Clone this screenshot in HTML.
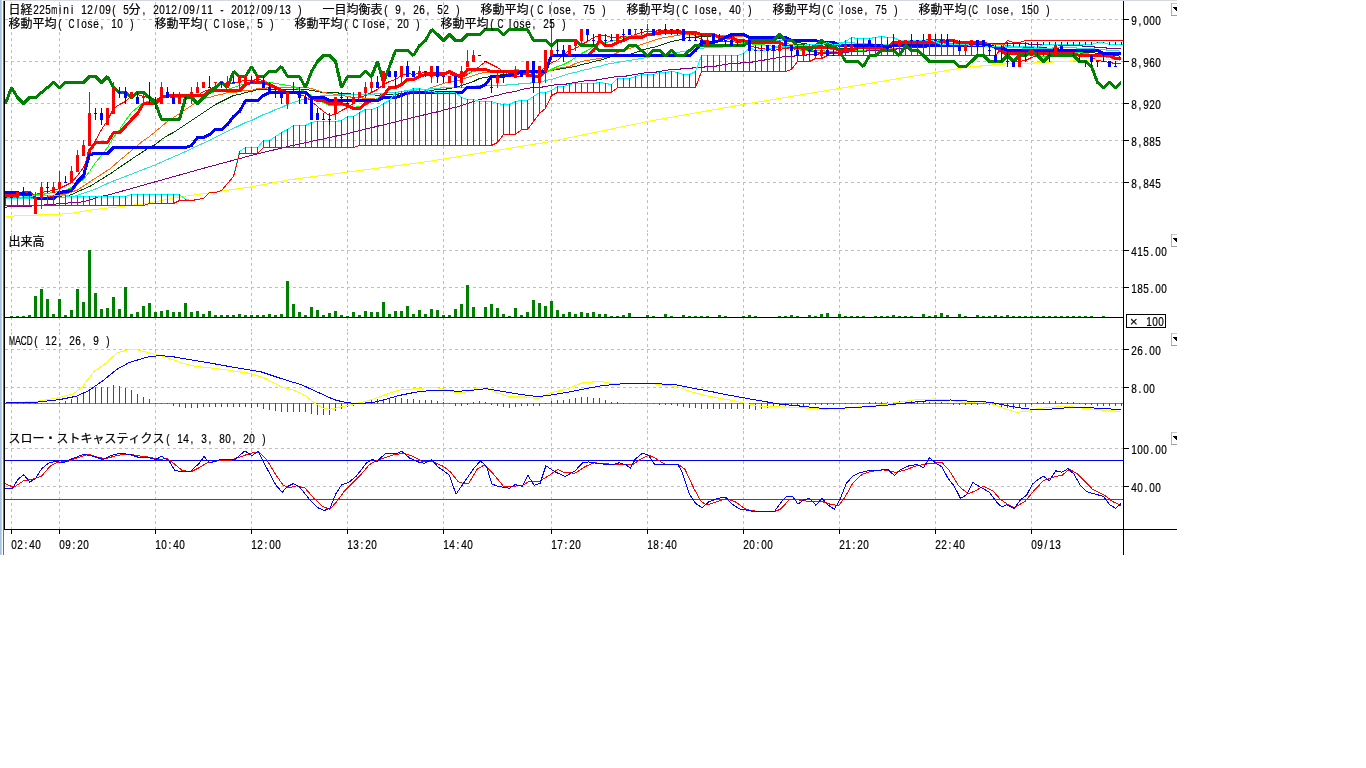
<!DOCTYPE html>
<html lang="ja"><head><meta charset="utf-8"><title>日経225mini 12/09 chart</title>
<style>html,body{margin:0;padding:0;background:#fff;overflow:hidden}svg{display:block}text{stroke:#000;stroke-width:.22px}</style></head>
<body><svg width="1366" height="768" viewBox="0 0 1366 768">
<g shape-rendering="crispEdges">
<rect x="0" y="0" width="1" height="555" fill="#a9c5e6"/>
<rect x="1" y="0" width="1" height="555" fill="#bdd3ec"/>
<rect x="3" y="0" width="1174" height="1" fill="#d5d8de"/>
<rect x="3" y="1" width="1" height="554" fill="#6e6e6e"/>
<line x1="5" y1="19.5" x2="1123" y2="19.5" stroke="#c0c0c0" stroke-dasharray="3 3"/>
<line x1="5" y1="61.5" x2="1123" y2="61.5" stroke="#c0c0c0" stroke-dasharray="3 3"/>
<line x1="5" y1="103.5" x2="1123" y2="103.5" stroke="#c0c0c0" stroke-dasharray="3 3"/>
<line x1="5" y1="140.5" x2="1123" y2="140.5" stroke="#c0c0c0" stroke-dasharray="3 3"/>
<line x1="5" y1="182.5" x2="1123" y2="182.5" stroke="#c0c0c0" stroke-dasharray="3 3"/>
<line x1="5" y1="250.5" x2="1123" y2="250.5" stroke="#c0c0c0" stroke-dasharray="3 3"/>
<line x1="5" y1="287.5" x2="1123" y2="287.5" stroke="#c0c0c0" stroke-dasharray="3 3"/>
<line x1="5" y1="349.5" x2="1123" y2="349.5" stroke="#c0c0c0" stroke-dasharray="3 3"/>
<line x1="5" y1="387.5" x2="1123" y2="387.5" stroke="#c0c0c0" stroke-dasharray="3 3"/>
<line x1="5" y1="448.5" x2="1123" y2="448.5" stroke="#c0c0c0" stroke-dasharray="3 3"/>
<line x1="5" y1="486.5" x2="1123" y2="486.5" stroke="#c0c0c0" stroke-dasharray="3 3"/>
<line x1="11.5" y1="2" x2="11.5" y2="232" stroke="#c0c0c0" stroke-dasharray="3 3"/>
<line x1="11.5" y1="233" x2="11.5" y2="331" stroke="#c0c0c0" stroke-dasharray="3 3"/>
<line x1="11.5" y1="332" x2="11.5" y2="430" stroke="#c0c0c0" stroke-dasharray="3 3"/>
<line x1="11.5" y1="431" x2="11.5" y2="529" stroke="#c0c0c0" stroke-dasharray="3 3"/>
<line x1="59.5" y1="2" x2="59.5" y2="232" stroke="#c0c0c0" stroke-dasharray="3 3"/>
<line x1="59.5" y1="233" x2="59.5" y2="331" stroke="#c0c0c0" stroke-dasharray="3 3"/>
<line x1="59.5" y1="332" x2="59.5" y2="430" stroke="#c0c0c0" stroke-dasharray="3 3"/>
<line x1="59.5" y1="431" x2="59.5" y2="529" stroke="#c0c0c0" stroke-dasharray="3 3"/>
<line x1="155.5" y1="2" x2="155.5" y2="232" stroke="#c0c0c0" stroke-dasharray="3 3"/>
<line x1="155.5" y1="233" x2="155.5" y2="331" stroke="#c0c0c0" stroke-dasharray="3 3"/>
<line x1="155.5" y1="332" x2="155.5" y2="430" stroke="#c0c0c0" stroke-dasharray="3 3"/>
<line x1="155.5" y1="431" x2="155.5" y2="529" stroke="#c0c0c0" stroke-dasharray="3 3"/>
<line x1="251.5" y1="2" x2="251.5" y2="232" stroke="#c0c0c0" stroke-dasharray="3 3"/>
<line x1="251.5" y1="233" x2="251.5" y2="331" stroke="#c0c0c0" stroke-dasharray="3 3"/>
<line x1="251.5" y1="332" x2="251.5" y2="430" stroke="#c0c0c0" stroke-dasharray="3 3"/>
<line x1="251.5" y1="431" x2="251.5" y2="529" stroke="#c0c0c0" stroke-dasharray="3 3"/>
<line x1="347.5" y1="2" x2="347.5" y2="232" stroke="#c0c0c0" stroke-dasharray="3 3"/>
<line x1="347.5" y1="233" x2="347.5" y2="331" stroke="#c0c0c0" stroke-dasharray="3 3"/>
<line x1="347.5" y1="332" x2="347.5" y2="430" stroke="#c0c0c0" stroke-dasharray="3 3"/>
<line x1="347.5" y1="431" x2="347.5" y2="529" stroke="#c0c0c0" stroke-dasharray="3 3"/>
<line x1="443.5" y1="2" x2="443.5" y2="232" stroke="#c0c0c0" stroke-dasharray="3 3"/>
<line x1="443.5" y1="233" x2="443.5" y2="331" stroke="#c0c0c0" stroke-dasharray="3 3"/>
<line x1="443.5" y1="332" x2="443.5" y2="430" stroke="#c0c0c0" stroke-dasharray="3 3"/>
<line x1="443.5" y1="431" x2="443.5" y2="529" stroke="#c0c0c0" stroke-dasharray="3 3"/>
<line x1="551.5" y1="2" x2="551.5" y2="232" stroke="#c0c0c0" stroke-dasharray="3 3"/>
<line x1="551.5" y1="233" x2="551.5" y2="331" stroke="#c0c0c0" stroke-dasharray="3 3"/>
<line x1="551.5" y1="332" x2="551.5" y2="430" stroke="#c0c0c0" stroke-dasharray="3 3"/>
<line x1="551.5" y1="431" x2="551.5" y2="529" stroke="#c0c0c0" stroke-dasharray="3 3"/>
<line x1="647.5" y1="2" x2="647.5" y2="232" stroke="#c0c0c0" stroke-dasharray="3 3"/>
<line x1="647.5" y1="233" x2="647.5" y2="331" stroke="#c0c0c0" stroke-dasharray="3 3"/>
<line x1="647.5" y1="332" x2="647.5" y2="430" stroke="#c0c0c0" stroke-dasharray="3 3"/>
<line x1="647.5" y1="431" x2="647.5" y2="529" stroke="#c0c0c0" stroke-dasharray="3 3"/>
<line x1="743.5" y1="2" x2="743.5" y2="232" stroke="#c0c0c0" stroke-dasharray="3 3"/>
<line x1="743.5" y1="233" x2="743.5" y2="331" stroke="#c0c0c0" stroke-dasharray="3 3"/>
<line x1="743.5" y1="332" x2="743.5" y2="430" stroke="#c0c0c0" stroke-dasharray="3 3"/>
<line x1="743.5" y1="431" x2="743.5" y2="529" stroke="#c0c0c0" stroke-dasharray="3 3"/>
<line x1="839.5" y1="2" x2="839.5" y2="232" stroke="#c0c0c0" stroke-dasharray="3 3"/>
<line x1="839.5" y1="233" x2="839.5" y2="331" stroke="#c0c0c0" stroke-dasharray="3 3"/>
<line x1="839.5" y1="332" x2="839.5" y2="430" stroke="#c0c0c0" stroke-dasharray="3 3"/>
<line x1="839.5" y1="431" x2="839.5" y2="529" stroke="#c0c0c0" stroke-dasharray="3 3"/>
<line x1="935.5" y1="2" x2="935.5" y2="232" stroke="#c0c0c0" stroke-dasharray="3 3"/>
<line x1="935.5" y1="233" x2="935.5" y2="331" stroke="#c0c0c0" stroke-dasharray="3 3"/>
<line x1="935.5" y1="332" x2="935.5" y2="430" stroke="#c0c0c0" stroke-dasharray="3 3"/>
<line x1="935.5" y1="431" x2="935.5" y2="529" stroke="#c0c0c0" stroke-dasharray="3 3"/>
<line x1="1031.5" y1="2" x2="1031.5" y2="232" stroke="#c0c0c0" stroke-dasharray="3 3"/>
<line x1="1031.5" y1="233" x2="1031.5" y2="331" stroke="#c0c0c0" stroke-dasharray="3 3"/>
<line x1="1031.5" y1="332" x2="1031.5" y2="430" stroke="#c0c0c0" stroke-dasharray="3 3"/>
<line x1="1031.5" y1="431" x2="1031.5" y2="529" stroke="#c0c0c0" stroke-dasharray="3 3"/>
</g>
<g shape-rendering="crispEdges">
<polyline points="5.5,197 45.5,198 70.5,195 90.5,186 110.5,173.6 133.9,157.6 149.5,147.5 155.5,144.5 161.5,139.5 167.5,135.5 173.5,132.5 179.5,128.5 185.5,124.5 191.5,120.5 197.5,116.5 203.5,112.5 209.5,108.5 215.5,104.5 221.5,101.5 227.5,98.5 233.5,95.5 239.5,94.5 245.5,92.5 251.5,91.5 257.5,89.5 263.5,89.5 269.5,89.5 275.5,89.5 281.5,89.5 287.5,89.5 293.5,89.5 299.5,89.5 305.5,89.5 311.5,90.5 317.5,91.5 323.5,92.5 329.5,92.5 335.5,92.5 341.5,93.5 347.5,93.5 353.5,94.5 359.5,94.5 365.5,94.5 371.5,94.5 377.5,95.5 383.5,94.5 389.5,94.5 395.5,94.5 401.5,93.5 407.5,93.5 413.5,93.5 419.5,92.5 425.5,91.5 431.5,90.5 437.5,89.5 443.5,89.5 449.5,88.5 455.5,87.5 461.5,85.5 467.5,83.5 473.5,81.5 479.5,78.5 485.5,77.5 491.5,76.5 497.5,75.5 503.5,74.5 509.5,74.5 515.5,73.5 521.5,73.5 527.5,72.5 533.5,72.5 539.5,72.5 545.5,71.5 551.5,70.5 557.5,69.5 563.5,68.5 569.5,67.5 575.5,66.5 581.5,64.5 587.5,63.5 593.5,61.5 599.5,60.5 605.5,58.5 611.5,56.5 617.5,55.5 623.5,55.5 629.5,54.5 635.5,52.5 641.5,50.5 647.5,48.5 653.5,47.5 659.5,45.5 665.5,43.5 671.5,41.5 677.5,40.5 683.5,38.5 689.5,37.5 695.5,37.5 701.5,36.5 707.5,36.5 713.5,35.5 719.5,35.5 725.5,35.5 731.5,36.5 737.5,36.5 743.5,36.5 749.5,37.5 755.5,37.5 761.5,38.5 767.5,39.5 773.5,39.5 779.5,40.5 785.5,40.5 791.5,41.5 797.5,42.5 803.5,43.5 809.5,44.5 815.5,45.5 821.5,45.5 827.5,47.5 833.5,47.5 839.5,48.5 845.5,48.5 851.5,48.5 857.5,48.5 863.5,48.5 869.5,48.5 875.5,49.5 881.5,49.5 887.5,49.5 893.5,49.5 899.5,48.5 905.5,48.5 911.5,47.5 917.5,47.5 923.5,47.5 929.5,46.5 935.5,46.5 941.5,45.5 947.5,45.5 953.5,45.5 959.5,45.5 965.5,44.5 971.5,44.5 977.5,44.5 983.5,43.5 989.5,43.5 995.5,44.5 1001.5,44.5 1007.5,45.5 1013.5,46.5 1019.5,46.5 1025.5,47.5 1031.5,47.5 1037.5,47.5 1043.5,47.5 1049.5,48.5 1055.5,48.5 1061.5,49.5 1067.5,49.5 1073.5,50.5 1079.5,51.5 1085.5,52.5 1091.5,52.5 1097.5,53.5 1103.5,54.5 1109.5,54.5 1115.5,55.5 1120.5,56.33" fill="none" stroke="#004800" stroke-width="1"/>
<polyline points="5.5,197 40.5,198 65.5,194 77.5,190 89.5,182 110.5,168.5 119.5,160.5 125.5,155.5 131.5,150.5 137.5,145.5 143.5,140.5 149.5,136.5 155.5,131.5 161.5,126.5 167.5,121.5 173.5,117.5 179.5,113.5 185.5,109.5 191.5,105.5 197.5,101.5 203.5,98.5 209.5,97.5 215.5,95.5 221.5,94.5 227.5,92.5 233.5,92.5 239.5,91.5 245.5,90.5 251.5,90.5 257.5,88.5 263.5,88.5 269.5,87.5 275.5,87.5 281.5,87.5 287.5,87.5 293.5,87.5 299.5,87.5 305.5,87.5 311.5,88.5 317.5,90.5 323.5,92.5 329.5,93.5 335.5,94.5 341.5,95.5 347.5,96.5 353.5,97.5 359.5,97.5 365.5,98.5 371.5,98.5 377.5,99.5 383.5,98.5 389.5,97.5 395.5,96.5 401.5,95.5 407.5,94.5 413.5,93.5 419.5,92.5 425.5,90.5 431.5,87.5 437.5,85.5 443.5,83.5 449.5,81.5 455.5,81.5 461.5,79.5 467.5,77.5 473.5,75.5 479.5,73.5 485.5,72.5 491.5,72.5 497.5,72.5 503.5,72.5 509.5,72.5 515.5,72.5 521.5,72.5 527.5,71.5 533.5,72.5 539.5,71.5 545.5,70.5 551.5,70.5 557.5,68.5 563.5,67.5 569.5,66.5 575.5,63.5 581.5,61.5 587.5,60.5 593.5,59.5 599.5,58.5 605.5,57.5 611.5,55.5 617.5,52.5 623.5,50.5 629.5,48.5 635.5,46.5 641.5,44.5 647.5,42.5 653.5,40.5 659.5,38.5 665.5,37.5 671.5,36.5 677.5,35.5 683.5,34.5 689.5,34.5 695.5,34.5 701.5,35.5 707.5,35.5 713.5,35.5 719.5,35.5 725.5,35.5 731.5,35.5 737.5,36.5 743.5,36.5 749.5,37.5 755.5,38.5 761.5,39.5 767.5,40.5 773.5,41.5 779.5,42.5 785.5,43.5 791.5,44.5 797.5,45.5 803.5,46.5 809.5,46.5 815.5,47.5 821.5,47.5 827.5,48.5 833.5,49.5 839.5,49.5 845.5,50.5 851.5,50.5 857.5,50.5 863.5,50.5 869.5,49.5 875.5,49.5 881.5,49.5 887.5,49.5 893.5,48.5 899.5,48.5 905.5,48.5 911.5,47.5 917.5,46.5 923.5,46.5 929.5,45.5 935.5,44.5 941.5,44.5 947.5,43.5 953.5,43.5 959.5,43.5 965.5,43.5 971.5,42.5 977.5,42.5 983.5,42.5 989.5,43.5 995.5,44.5 1001.5,44.5 1007.5,45.5 1013.5,46.5 1019.5,47.5 1025.5,48.5 1031.5,48.5 1037.5,49.5 1043.5,49.5 1049.5,50.5 1055.5,51.5 1061.5,51.5 1067.5,51.5 1073.5,52.5 1079.5,52.5 1085.5,53.5 1091.5,54.5 1097.5,55.5 1103.5,56.5 1109.5,57.5 1115.5,57.5 1120.5,57.5" fill="none" stroke="#ff6600" stroke-width="1"/>
<polyline points="5.5,195.5 11.5,195.5 17.5,195.5 23.5,195.5 29.5,194.5 35.5,194.5 41.5,192.5 47.5,191.5 53.5,190.5 59.5,188.5 65.5,185.5 71.5,182.5 77.5,175.5 83.5,167.5 89.5,153.5 95.5,140.5 101.5,129.5 107.5,120.5 113.5,108.5 119.5,104.5 125.5,101.5 131.5,95.5 137.5,94.5 143.5,96.5 149.5,97.5 155.5,99.5 161.5,97.5 167.5,96.5 173.5,97.5 179.5,97.5 185.5,96.5 191.5,97.5 197.5,95.5 203.5,91.5 209.5,89.5 215.5,86.5 221.5,84.5 227.5,83.5 233.5,83.5 239.5,81.5 245.5,80.5 251.5,80.5 257.5,79.5 263.5,80.5 269.5,83.5 275.5,86.5 281.5,89.5 287.5,92.5 293.5,93.5 299.5,94.5 305.5,96.5 311.5,101.5 317.5,106.5 323.5,111.5 329.5,115.5 335.5,114.5 341.5,110.5 347.5,107.5 353.5,103.5 359.5,97.5 365.5,95.5 371.5,92.5 377.5,89.5 383.5,84.5 389.5,81.5 395.5,79.5 401.5,75.5 407.5,73.5 413.5,74.5 419.5,73.5 425.5,72.5 431.5,72.5 437.5,72.5 443.5,72.5 449.5,73.5 455.5,76.5 461.5,77.5 467.5,74.5 473.5,70.5 479.5,66.5 485.5,61.5 491.5,64.5 497.5,67.5 503.5,71.5 509.5,75.5 515.5,77.5 521.5,75.5 527.5,72.5 533.5,73.5 539.5,71.5 545.5,67.5 551.5,62.5 557.5,60.5 563.5,54.5 569.5,50.5 575.5,48.5 581.5,44.5 587.5,41.5 593.5,37.5 599.5,35.5 605.5,35.5 611.5,37.5 617.5,37.5 623.5,36.5 629.5,36.5 635.5,34.5 641.5,32.5 647.5,31.5 653.5,31.5 659.5,30.5 665.5,30.5 671.5,30.5 677.5,30.5 683.5,31.5 689.5,33.5 695.5,35.5 701.5,39.5 707.5,41.5 713.5,41.5 719.5,41.5 725.5,41.5 731.5,41.5 737.5,42.5 743.5,43.5 749.5,45.5 755.5,47.5 761.5,48.5 767.5,49.5 773.5,50.5 779.5,49.5 785.5,48.5 791.5,48.5 797.5,49.5 803.5,49.5 809.5,50.5 815.5,52.5 821.5,52.5 827.5,52.5 833.5,53.5 839.5,53.5 845.5,51.5 851.5,50.5 857.5,48.5 863.5,46.5 869.5,45.5 875.5,45.5 881.5,45.5 887.5,45.5 893.5,45.5 899.5,44.5 905.5,43.5 911.5,42.5 917.5,41.5 923.5,40.5 929.5,39.5 935.5,39.5 941.5,39.5 947.5,40.5 953.5,41.5 959.5,44.5 965.5,45.5 971.5,45.5 977.5,45.5 983.5,45.5 989.5,45.5 995.5,48.5 1001.5,52.5 1007.5,55.5 1013.5,60.5 1019.5,61.5 1025.5,60.5 1031.5,57.5 1037.5,55.5 1043.5,52.5 1049.5,52.5 1055.5,50.5 1061.5,50.5 1067.5,50.5 1073.5,51.5 1079.5,52.5 1085.5,55.5 1091.5,57.5 1097.5,60.5 1103.5,61.5 1109.5,62.5 1115.5,63.5 1120.5,63.5" fill="none" stroke="#ff0000" stroke-width="1"/>
<polyline points="5.5,194.5 11.5,195.5 17.5,194.5 23.5,194.5 29.5,194.5 35.5,194.5 41.5,194.5 47.5,193.5 53.5,192.5 59.5,191.5 65.5,190.5 71.5,187.5 77.5,183.5 83.5,179.5 89.5,171.5 95.5,162.5 101.5,155.5 107.5,147.5 113.5,137.5 119.5,129.5 125.5,120.5 131.5,112.5 137.5,107.5 143.5,102.5 149.5,101.5 155.5,100.5 161.5,96.5 167.5,95.5 173.5,97.5 179.5,97.5 185.5,97.5 191.5,97.5 197.5,96.5 203.5,94.5 209.5,93.5 215.5,91.5 221.5,91.5 227.5,89.5 233.5,87.5 239.5,85.5 245.5,83.5 251.5,82.5 257.5,81.5 263.5,81.5 269.5,82.5 275.5,83.5 281.5,84.5 287.5,85.5 293.5,86.5 299.5,89.5 305.5,91.5 311.5,95.5 317.5,99.5 323.5,102.5 329.5,105.5 335.5,105.5 341.5,105.5 347.5,106.5 353.5,107.5 359.5,106.5 365.5,105.5 371.5,101.5 377.5,98.5 383.5,93.5 389.5,89.5 395.5,87.5 401.5,84.5 407.5,81.5 413.5,79.5 419.5,77.5 425.5,75.5 431.5,74.5 437.5,73.5 443.5,73.5 449.5,73.5 455.5,74.5 461.5,75.5 467.5,73.5 473.5,71.5 479.5,70.5 485.5,69.5 491.5,71.5 497.5,71.5 503.5,71.5 509.5,71.5 515.5,69.5 521.5,70.5 527.5,70.5 533.5,72.5 539.5,73.5 545.5,72.5 551.5,69.5 557.5,66.5 563.5,64.5 569.5,61.5 575.5,57.5 581.5,53.5 587.5,50.5 593.5,46.5 599.5,43.5 605.5,42.5 611.5,41.5 617.5,39.5 623.5,37.5 629.5,36.5 635.5,35.5 641.5,35.5 647.5,34.5 653.5,34.5 659.5,33.5 665.5,32.5 671.5,31.5 677.5,31.5 683.5,31.5 689.5,32.5 695.5,33.5 701.5,34.5 707.5,35.5 713.5,36.5 719.5,37.5 725.5,38.5 731.5,40.5 737.5,41.5 743.5,42.5 749.5,43.5 755.5,44.5 761.5,44.5 767.5,45.5 773.5,46.5 779.5,47.5 785.5,47.5 791.5,48.5 797.5,49.5 803.5,50.5 809.5,50.5 815.5,50.5 821.5,50.5 827.5,51.5 833.5,51.5 839.5,52.5 845.5,52.5 851.5,51.5 857.5,50.5 863.5,50.5 869.5,49.5 875.5,48.5 881.5,47.5 887.5,46.5 893.5,45.5 899.5,44.5 905.5,44.5 911.5,43.5 917.5,43.5 923.5,42.5 929.5,41.5 935.5,41.5 941.5,40.5 947.5,40.5 953.5,40.5 959.5,41.5 965.5,42.5 971.5,42.5 977.5,42.5 983.5,43.5 989.5,44.5 995.5,46.5 1001.5,49.5 1007.5,50.5 1013.5,52.5 1019.5,53.5 1025.5,54.5 1031.5,55.5 1037.5,55.5 1043.5,56.5 1049.5,56.5 1055.5,55.5 1061.5,54.5 1067.5,53.5 1073.5,52.5 1079.5,52.5 1085.5,53.5 1091.5,54.5 1097.5,55.5 1103.5,56.5 1109.5,57.5 1115.5,59.5 1120.5,60.33" fill="none" stroke="#00ff00" stroke-width="1"/>
<polyline points="5.5,216.5 13.5,216.5 14.5,215.5 37.5,215.5 38.5,214.5 61.5,214.5 62.5,213.5 70.5,213.5 89.1,210.2 110.5,207.7 144.5,203.8 180.5,196.8 210,192.7 252,186.8 288.8,179.9 348.1,172 420.5,162.6 440.5,159.5 551.5,141.4 649.3,121.2 743.5,104.4 841.2,88.2 899.5,78.5 905.5,77.5 911.5,76.5 917.5,75.5 923.5,74.5 929.5,73.5 935.5,72.5 941.5,71.5 947.5,70.5 953.5,69.5 959.5,68.5 965.5,67.5 971.5,66.5 977.5,66.5 983.5,65.5 989.5,65.5 995.5,64.5 1001.5,64.5 1007.5,63.5 1013.5,63.5 1019.5,63.5 1025.5,63.5 1031.5,63.5 1037.5,62.5 1043.5,62.5 1049.5,62.5 1055.5,61.5 1061.5,61.5 1067.5,61.5 1073.5,60.5 1079.5,60.5 1085.5,60.5 1091.5,60.5 1097.5,59.5 1103.5,59.5 1109.5,59.5 1115.5,59.5 1120.5,59.5" fill="none" stroke="#ffff00" stroke-width="1"/>
<polyline points="5.5,207.5 8.5,206.5 31.5,206.5 32.5,205.5 43.5,205.5 44.5,204.5 55.5,204.5 56.5,203.5 67.5,203.5 68.5,202.5 78.5,202.5 89.1,200.5 97.9,197 106.8,195.2 110.5,194.4 155.9,181.6 204.2,168.1 252,155.2 288.8,146.3 348.1,133.5 420.5,115.7 440.5,111.1 449.5,108.5 455.5,107.5 461.5,105.5 467.5,103.5 473.5,101.5 479.5,99.5 485.5,98.5 491.5,96.5 497.5,95.5 503.5,93.5 509.5,92.5 515.5,91.5 521.5,89.5 527.5,88.5 533.5,87.5 539.5,87.5 545.5,86.5 551.5,85.5 557.5,84.5 563.5,84.5 569.5,83.5 575.5,82.5 581.5,81.5 587.5,80.5 593.5,80.5 599.5,79.5 605.5,78.5 611.5,77.5 617.5,76.5 623.5,76.5 629.5,75.5 635.5,74.5 641.5,73.5 647.5,72.5 653.5,72.5 659.5,71.5 665.5,70.5 671.5,69.5 677.5,69.5 683.5,68.5 689.5,68.5 695.5,67.5 701.5,67.5 707.5,66.5 713.5,66.5 719.5,65.5 725.5,64.5 731.5,63.5 737.5,63.5 743.5,62.5 749.5,62.5 755.5,61.5 761.5,60.5 767.5,59.5 773.5,58.5 779.5,57.5 785.5,56.5 791.5,56.5 797.5,55.5 803.5,55.5 809.5,54.5 815.5,54.5 821.5,53.5 827.5,53.5 833.5,52.5 839.5,52.5 845.5,52.5 851.5,51.5 857.5,51.5 863.5,51.5 869.5,50.5 875.5,50.5 881.5,50.5 887.5,49.5 893.5,49.5 899.5,48.5 905.5,48.5 911.5,47.5 917.5,47.5 923.5,47.5 929.5,46.5 935.5,46.5 941.5,46.5 947.5,45.5 953.5,45.5 959.5,44.5 965.5,44.5 971.5,43.5 977.5,43.5 983.5,43.5 989.5,43.5 995.5,43.5 1001.5,43.5 1007.5,43.5 1013.5,43.5 1019.5,43.5 1025.5,43.5 1031.5,44.5 1037.5,44.5 1043.5,44.5 1049.5,44.5 1055.5,44.5 1061.5,45.5 1067.5,45.5 1073.5,45.5 1079.5,45.5 1085.5,46.5 1091.5,46.5 1097.5,47.5 1103.5,47.5 1109.5,48.5 1115.5,48.5 1120.5,48.5" fill="none" stroke="#800080" stroke-width="1"/>
<polyline points="5.5,198 50.5,198.5 75.5,196 95.5,189 110.5,182.2 155.9,164.6 186.5,151.1 210,140 239.5,125.5 245.5,122.5 251.5,120.5 257.5,117.5 263.5,114.5 269.5,112.5 275.5,109.5 281.5,107.5 287.5,104.5 293.5,102.5 299.5,100.5 305.5,98.5 311.5,97.5 317.5,96.5 323.5,95.5 329.5,95.5 335.5,95.5 341.5,94.5 347.5,94.5 353.5,94.5 359.5,94.5 365.5,94.5 371.5,94.5 377.5,93.5 383.5,93.5 389.5,92.5 395.5,92.5 401.5,91.5 407.5,90.5 413.5,90.5 419.5,89.5 425.5,89.5 431.5,88.5 437.5,88.5 443.5,87.5 449.5,87.5 455.5,87.5 461.5,87.5 467.5,87.5 473.5,86.5 479.5,85.5 485.5,85.5 491.5,85.5 497.5,85.5 503.5,85.5 509.5,84.5 515.5,84.5 521.5,83.5 527.5,83.5 533.5,82.5 539.5,82.5 545.5,80.5 551.5,79.5 557.5,77.5 563.5,75.5 569.5,73.5 575.5,72.5 581.5,70.5 587.5,69.5 593.5,67.5 599.5,66.5 605.5,64.5 611.5,63.5 617.5,62.5 623.5,61.5 629.5,60.5 635.5,59.5 641.5,58.5 647.5,57.5 653.5,56.5 659.5,55.5 665.5,54.5 671.5,53.5 677.5,52.5 683.5,51.5 689.5,50.5 695.5,49.5 701.5,48.5 707.5,47.5 713.5,47.5 719.5,47.5 725.5,46.5 731.5,45.5 737.5,44.5 743.5,43.5 749.5,43.5 755.5,42.5 761.5,42.5 767.5,41.5 773.5,40.5 779.5,40.5 785.5,40.5 791.5,40.5 797.5,40.5 803.5,40.5 809.5,40.5 815.5,40.5 821.5,41.5 827.5,41.5 833.5,42.5 839.5,42.5 845.5,42.5 851.5,42.5 857.5,43.5 863.5,43.5 869.5,43.5 875.5,44.5 881.5,44.5 887.5,44.5 893.5,45.5 899.5,45.5 905.5,45.5 911.5,45.5 917.5,46.5 923.5,46.5 929.5,46.5 935.5,46.5 941.5,45.5 947.5,46.5 953.5,46.5 959.5,46.5 965.5,46.5 971.5,46.5 977.5,46.5 983.5,46.5 989.5,46.5 995.5,46.5 1001.5,47.5 1007.5,47.5 1013.5,47.5 1019.5,47.5 1025.5,48.5 1031.5,48.5 1037.5,48.5 1043.5,48.5 1049.5,48.5 1055.5,47.5 1061.5,47.5 1067.5,47.5 1073.5,47.5 1079.5,48.5 1085.5,48.5 1091.5,48.5 1097.5,49.5 1103.5,49.5 1109.5,50.5 1115.5,50.5 1120.5,51.33" fill="none" stroke="#30e0d0" stroke-width="1"/>
</g>
<g shape-rendering="crispEdges" stroke-linejoin="bevel" stroke-linecap="butt">
<path d="M658 31h39v1h-39zM655 32h45v1h-45zM646 33h69v1h-69zM644 34h14v1h-14zM697 34h20v1h-20zM642 35h13v1h-13zM700 35h19v1h-19zM628 36h19v1h-19zM714 36h19v1h-19zM626 37h19v1h-19zM716 37h19v1h-19zM624 38h19v1h-19zM718 38h19v1h-19zM600 39h1v1h-1zM622 39h7v1h-7zM732 39h13v1h-13zM946 39h9v1h-9zM598 40h4v1h-4zM619 40h8v1h-8zM734 40h14v1h-14zM943 40h15v1h-15zM597 41h6v1h-6zM616 41h9v1h-9zM736 41h45v1h-45zM892 41h93v1h-93zM597 42h7v1h-7zM614 42h8v1h-8zM745 42h38v1h-38zM891 42h55v1h-55zM955 42h32v1h-32zM596 43h3v1h-3zM601 43h4v1h-4zM612 43h7v1h-7zM748 43h37v1h-37zM890 43h53v1h-53zM958 43h31v1h-31zM595 44h4v1h-4zM602 44h15v1h-15zM780 44h7v1h-7zM889 44h4v1h-4zM984 44h7v1h-7zM595 45h3v1h-3zM603 45h12v1h-12zM782 45h8v1h-8zM888 45h4v1h-4zM986 45h8v1h-8zM594 46h4v1h-4zM604 46h9v1h-9zM784 46h51v1h-51zM856 46h35v1h-35zM988 46h9v1h-9zM594 47h3v1h-3zM787 47h50v1h-50zM854 47h36v1h-36zM991 47h8v1h-8zM593 48h3v1h-3zM790 48h49v1h-49zM852 48h37v1h-37zM994 48h7v1h-7zM592 49h4v1h-4zM834 49h23v1h-23zM996 49h7v1h-7zM591 50h4v1h-4zM836 50h19v1h-19zM998 50h7v1h-7zM590 51h5v1h-5zM838 51h15v1h-15zM1000 51h7v1h-7zM589 52h4v1h-4zM1002 52h73v1h-73zM588 53h4v1h-4zM1004 53h74v1h-74zM551 54h40v1h-40zM1006 54h105v1h-105zM550 55h40v1h-40zM1075 55h38v1h-38zM550 56h39v1h-39zM1078 56h37v1h-37zM549 57h3v2h-3zM1110 57h11v1h-11zM1112 58h9v1h-9zM548 59h4v1h-4zM1114 59h7v1h-7zM548 60h3v2h-3zM547 62h3v3h-3zM546 65h3v2h-3zM545 67h4v1h-4zM466 68h21v1h-21zM545 68h3v2h-3zM466 69h24v1h-24zM448 70h3v1h-3zM465 70h58v1h-58zM544 70h3v1h-3zM446 71h7v1h-7zM464 71h4v1h-4zM487 71h38v1h-38zM543 71h4v1h-4zM444 72h11v1h-11zM463 72h4v1h-4zM490 72h37v1h-37zM542 72h5v1h-5zM424 73h25v1h-25zM450 73h7v1h-7zM462 73h4v1h-4zM522 73h7v1h-7zM541 73h4v1h-4zM421 74h26v1h-26zM452 74h8v1h-8zM461 74h4v1h-4zM524 74h8v1h-8zM540 74h4v1h-4zM418 75h27v1h-27zM454 75h10v1h-10zM526 75h17v1h-17zM416 76h8v1h-8zM457 76h6v1h-6zM529 76h13v1h-13zM414 77h7v1h-7zM460 77h3v1h-3zM532 77h9v1h-9zM406 78h13v1h-13zM405 79h12v1h-12zM404 80h11v1h-11zM250 81h15v1h-15zM403 81h4v1h-4zM247 82h21v1h-21zM402 82h4v1h-4zM244 83h27v1h-27zM400 83h5v1h-5zM243 84h7v1h-7zM265 84h8v1h-8zM398 84h6v1h-6zM242 85h5v1h-5zM268 85h7v1h-7zM396 85h7v1h-7zM241 86h5v1h-5zM270 86h7v1h-7zM388 86h13v1h-13zM240 87h5v1h-5zM272 87h7v1h-7zM388 87h11v1h-11zM239 88h5v1h-5zM274 88h7v1h-7zM387 88h10v1h-10zM208 89h35v1h-35zM276 89h7v1h-7zM386 89h4v1h-4zM207 90h35v1h-35zM278 90h8v1h-8zM385 90h4v1h-4zM206 91h35v1h-35zM280 91h27v1h-27zM385 91h3v1h-3zM205 92h4v1h-4zM283 92h25v1h-25zM384 92h4v1h-4zM204 93h4v1h-4zM286 93h23v1h-23zM383 93h4v1h-4zM166 94h41v1h-41zM306 94h4v1h-4zM382 94h4v1h-4zM163 95h43v1h-43zM307 95h4v1h-4zM381 95h4v1h-4zM160 96h45v1h-45zM308 96h5v1h-5zM380 96h5v1h-5zM159 97h7v1h-7zM309 97h6v1h-6zM379 97h4v1h-4zM158 98h5v1h-5zM310 98h7v1h-7zM378 98h4v1h-4zM157 99h5v1h-5zM312 99h13v1h-13zM370 99h11v1h-11zM156 100h5v1h-5zM314 100h13v1h-13zM368 100h12v1h-12zM155 101h5v1h-5zM316 101h13v1h-13zM366 101h13v1h-13zM143 102h16v1h-16zM324 102h19v1h-19zM364 102h7v1h-7zM142 103h16v1h-16zM326 103h20v1h-20zM363 103h6v1h-6zM141 104h16v1h-16zM328 104h21v1h-21zM362 104h5v1h-5zM141 105h3v1h-3zM343 105h8v1h-8zM361 105h4v1h-4zM140 106h3v1h-3zM346 106h7v1h-7zM360 106h4v1h-4zM139 107h4v1h-4zM348 107h15v1h-15zM139 108h3v1h-3zM350 108h12v1h-12zM138 109h4v1h-4zM352 109h9v1h-9zM138 110h3v1h-3zM137 111h3v1h-3zM136 112h4v1h-4zM135 113h4v1h-4zM134 114h5v1h-5zM133 115h5v1h-5zM132 116h5v1h-5zM131 117h5v1h-5zM130 118h5v1h-5zM130 119h4v1h-4zM129 120h4v1h-4zM128 121h4v1h-4zM127 122h4v1h-4zM126 123h4v1h-4zM125 124h4v1h-4zM124 125h4v1h-4zM123 126h4v1h-4zM122 127h5v1h-5zM121 128h5v1h-5zM120 129h5v1h-5zM119 130h5v1h-5zM113 131h10v1h-10zM112 132h10v1h-10zM111 133h10v1h-10zM111 134h3v1h-3zM110 135h3v1h-3zM109 136h4v1h-4zM109 137h3v1h-3zM108 138h4v1h-4zM108 139h3v1h-3zM107 140h3v1h-3zM94 141h16v1h-16zM94 142h15v1h-15zM93 143h15v1h-15zM92 144h4v1h-4zM91 145h4v1h-4zM91 146h3v1h-3zM90 147h4v1h-4zM89 148h4v1h-4zM88 149h4v1h-4zM88 150h3v2h-3zM87 152h4v1h-4zM87 153h3v4h-3zM86 157h3v4h-3zM85 161h4v1h-4zM85 162h3v3h-3zM84 165h4v1h-4zM84 166h3v4h-3zM83 170h3v4h-3zM82 174h4v1h-4zM82 175h3v1h-3zM81 176h4v1h-4zM80 177h5v1h-5zM79 178h5v1h-5zM78 179h5v1h-5zM77 180h5v1h-5zM76 181h5v1h-5zM76 182h4v1h-4zM75 183h4v1h-4zM74 184h4v1h-4zM73 185h4v1h-4zM73 186h3v1h-3zM72 187h4v1h-4zM71 188h4v1h-4zM70 189h4v1h-4zM67 190h6v1h-6zM22 191h9v1h-9zM58 191h15v1h-15zM20 192h12v1h-12zM57 192h13v1h-13zM18 193h15v1h-15zM56 193h11v1h-11zM5 194h18v1h-18zM29 194h5v1h-5zM55 194h4v1h-4zM5 195h16v1h-16zM30 195h5v1h-5zM54 195h4v1h-4zM5 196h14v1h-14zM31 196h5v1h-5zM50 196h7v1h-7zM32 197h24v1h-24zM33 198h22v1h-22zM34 199h17v1h-17z" fill="#ff0000"/>
<path d="M730 33h15v1h-15zM728 34h19v1h-19zM726 35h23v1h-23zM724 36h7v1h-7zM744 36h43v1h-43zM722 37h7v1h-7zM746 37h43v1h-43zM720 38h7v1h-7zM748 38h43v1h-43zM718 39h7v1h-7zM786 39h31v1h-31zM715 40h8v1h-8zM788 40h32v1h-32zM700 41h21v1h-21zM790 41h45v1h-45zM700 42h18v1h-18zM817 42h20v1h-20zM699 43h16v1h-16zM820 43h19v1h-19zM698 44h4v1h-4zM834 44h49v1h-49zM892 44h99v1h-99zM697 45h4v1h-4zM836 45h50v1h-50zM889 45h105v1h-105zM697 46h3v1h-3zM838 46h165v1h-165zM696 47h4v1h-4zM883 47h9v1h-9zM991 47h14v1h-14zM695 48h4v1h-4zM886 48h3v1h-3zM994 48h13v1h-13zM694 49h4v1h-4zM1002 49h97v1h-97zM693 50h4v1h-4zM1004 50h97v1h-97zM692 51h5v1h-5zM1006 51h97v1h-97zM691 52h4v1h-4zM1098 52h23v1h-23zM690 53h4v1h-4zM1100 53h21v1h-21zM551 54h142v1h-142zM1102 54h19v1h-19zM550 55h142v1h-142zM550 56h141v1h-141zM549 57h3v2h-3zM548 59h4v1h-4zM548 60h3v2h-3zM547 62h3v3h-3zM546 65h3v2h-3zM545 67h4v1h-4zM545 68h3v2h-3zM520 70h27v1h-27zM518 71h29v1h-29zM516 72h30v1h-30zM508 73h13v1h-13zM505 74h14v1h-14zM490 75h27v1h-27zM490 76h18v1h-18zM489 77h16v1h-16zM488 78h4v1h-4zM487 79h4v1h-4zM487 80h3v1h-3zM486 81h4v1h-4zM485 82h4v1h-4zM484 83h4v1h-4zM482 84h5v1h-5zM480 85h7v1h-7zM466 86h19v1h-19zM465 87h18v1h-18zM464 88h17v1h-17zM463 89h4v1h-4zM462 90h4v1h-4zM268 91h39v1h-39zM406 91h59v1h-59zM266 92h42v1h-42zM404 92h60v1h-60zM264 93h45v1h-45zM402 93h61v1h-61zM262 94h7v1h-7zM306 94h4v1h-4zM400 94h7v1h-7zM261 95h6v1h-6zM307 95h4v1h-4zM397 95h8v1h-8zM260 96h5v1h-5zM308 96h17v1h-17zM382 96h21v1h-21zM259 97h4v1h-4zM309 97h18v1h-18zM380 97h20v1h-20zM258 98h4v1h-4zM310 98h19v1h-19zM378 98h19v1h-19zM245 99h16v1h-16zM324 99h59v1h-59zM244 100h16v1h-16zM326 100h55v1h-55zM243 101h16v1h-16zM328 101h51v1h-51zM243 102h3v1h-3zM242 103h4v1h-4zM242 104h3v1h-3zM241 105h3v2h-3zM240 107h3v1h-3zM239 108h4v1h-4zM239 109h3v1h-3zM238 110h4v1h-4zM237 111h4v1h-4zM236 112h5v1h-5zM235 113h4v1h-4zM234 114h4v1h-4zM232 115h5v1h-5zM232 116h4v1h-4zM231 117h4v1h-4zM230 118h4v1h-4zM229 119h4v1h-4zM229 120h3v1h-3zM228 121h4v1h-4zM227 122h4v1h-4zM226 123h4v1h-4zM225 124h4v1h-4zM224 125h5v1h-5zM223 126h4v1h-4zM222 127h4v1h-4zM214 128h11v1h-11zM213 129h11v1h-11zM212 130h11v1h-11zM211 131h4v1h-4zM210 132h4v1h-4zM208 133h5v1h-5zM206 134h6v1h-6zM204 135h7v1h-7zM196 136h13v1h-13zM196 137h11v1h-11zM195 138h10v1h-10zM194 139h4v1h-4zM193 140h4v1h-4zM193 141h3v1h-3zM192 142h4v1h-4zM191 143h4v1h-4zM190 144h4v1h-4zM187 145h6v1h-6zM112 146h81v1h-81zM111 147h79v1h-79zM110 148h77v1h-77zM109 149h5v1h-5zM108 150h5v1h-5zM107 151h5v1h-5zM92 152h19v1h-19zM89 153h21v1h-21zM88 154h21v1h-21zM88 155h5v1h-5zM87 156h3v4h-3zM86 160h3v3h-3zM85 163h3v4h-3zM84 167h3v3h-3zM83 170h3v4h-3zM82 174h3v1h-3zM81 175h4v1h-4zM80 176h5v1h-5zM79 177h5v1h-5zM78 178h5v1h-5zM77 179h5v1h-5zM76 180h5v1h-5zM76 181h4v1h-4zM75 182h4v1h-4zM74 183h4v1h-4zM74 184h3v1h-3zM73 185h4v1h-4zM72 186h4v1h-4zM72 187h3v1h-3zM71 188h4v1h-4zM68 189h6v1h-6zM62 190h11v1h-11zM5 191h14v1h-14zM58 191h14v1h-14zM5 192h17v1h-17zM57 192h12v1h-12zM5 193h26v1h-26zM56 193h7v1h-7zM19 194h13v1h-13zM55 194h5v1h-5zM22 195h12v1h-12zM54 195h5v1h-5zM30 196h5v1h-5zM53 196h5v1h-5zM31 197h26v1h-26zM33 198h23v1h-23zM34 199h21v1h-21z" fill="#0000ff"/>
<path d="M432 28h1v1h-1zM484 28h15v1h-15zM508 28h20v1h-20zM430 29h4v1h-4zM483 29h17v1h-17zM507 29h22v1h-22zM429 30h6v1h-6zM482 30h19v1h-19zM506 30h24v1h-24zM429 31h7v1h-7zM481 31h4v1h-4zM498 31h4v1h-4zM505 31h4v1h-4zM527 31h3v1h-3zM428 32h4v1h-4zM433 32h4v1h-4zM480 32h4v1h-4zM499 32h4v1h-4zM504 32h4v1h-4zM527 32h4v1h-4zM428 33h3v1h-3zM434 33h5v1h-5zM448 33h3v1h-3zM466 33h17v1h-17zM500 33h7v1h-7zM528 33h3v1h-3zM778 33h3v1h-3zM427 34h3v2h-3zM435 34h5v1h-5zM447 34h5v1h-5zM465 34h17v1h-17zM501 34h5v1h-5zM529 34h3v2h-3zM777 34h5v1h-5zM436 35h5v1h-5zM446 35h7v1h-7zM464 35h17v1h-17zM502 35h3v1h-3zM776 35h7v1h-7zM426 36h3v1h-3zM437 36h5v1h-5zM445 36h9v1h-9zM463 36h5v1h-5zM530 36h3v1h-3zM775 36h9v1h-9zM425 37h4v1h-4zM438 37h5v1h-5zM444 37h5v1h-5zM450 37h5v1h-5zM462 37h5v1h-5zM530 37h4v1h-4zM774 37h5v1h-5zM780 37h5v1h-5zM425 38h3v1h-3zM439 38h9v1h-9zM451 38h5v1h-5zM461 38h5v1h-5zM531 38h3v1h-3zM773 38h5v1h-5zM781 38h5v1h-5zM424 39h4v1h-4zM440 39h7v1h-7zM452 39h13v1h-13zM531 39h16v1h-16zM556 39h21v1h-21zM748 39h29v1h-29zM782 39h11v1h-11zM820 39h3v1h-3zM423 40h4v1h-4zM441 40h5v1h-5zM453 40h11v1h-11zM532 40h16v1h-16zM555 40h23v1h-23zM747 40h29v1h-29zM783 40h11v1h-11zM819 40h5v1h-5zM422 41h5v1h-5zM442 41h3v1h-3zM454 41h9v1h-9zM533 41h16v1h-16zM554 41h25v1h-25zM746 41h29v1h-29zM784 41h11v1h-11zM818 41h7v1h-7zM421 42h4v1h-4zM546 42h4v1h-4zM553 42h4v1h-4zM576 42h4v1h-4zM745 42h4v1h-4zM792 42h4v1h-4zM817 42h4v1h-4zM822 42h4v1h-4zM420 43h4v1h-4zM547 43h4v1h-4zM552 43h4v1h-4zM577 43h4v1h-4zM744 43h4v1h-4zM793 43h4v1h-4zM816 43h4v1h-4zM823 43h4v1h-4zM418 44h5v1h-5zM548 44h7v1h-7zM578 44h17v1h-17zM628 44h9v1h-9zM694 44h53v1h-53zM794 44h11v1h-11zM814 44h5v1h-5zM824 44h11v1h-11zM906 44h1v1h-1zM418 45h4v1h-4zM549 45h5v1h-5zM579 45h17v1h-17zM627 45h11v1h-11zM693 45h53v1h-53zM795 45h11v1h-11zM813 45h5v1h-5zM825 45h11v1h-11zM904 45h4v1h-4zM417 46h4v1h-4zM550 46h3v1h-3zM580 46h17v1h-17zM626 46h13v1h-13zM692 46h53v1h-53zM796 46h11v1h-11zM812 46h5v1h-5zM826 46h11v1h-11zM903 46h6v1h-6zM417 47h3v1h-3zM594 47h4v1h-4zM625 47h4v1h-4zM636 47h4v1h-4zM691 47h4v1h-4zM804 47h4v1h-4zM811 47h4v1h-4zM834 47h4v1h-4zM903 47h7v1h-7zM416 48h3v1h-3zM595 48h4v1h-4zM624 48h4v1h-4zM637 48h4v1h-4zM690 48h4v1h-4zM805 48h4v1h-4zM810 48h4v1h-4zM835 48h4v1h-4zM902 48h3v1h-3zM907 48h4v1h-4zM395 49h14v1h-14zM415 49h4v1h-4zM596 49h31v1h-31zM638 49h5v1h-5zM652 49h9v1h-9zM670 49h3v1h-3zM688 49h5v1h-5zM806 49h7v1h-7zM836 49h5v1h-5zM880 49h15v1h-15zM901 49h4v1h-4zM908 49h11v1h-11zM1030 49h3v1h-3zM394 50h16v1h-16zM415 50h3v1h-3zM597 50h29v1h-29zM639 50h5v1h-5zM651 50h11v1h-11zM669 50h5v1h-5zM687 50h5v1h-5zM807 50h5v1h-5zM837 50h4v1h-4zM879 50h17v1h-17zM901 50h3v1h-3zM909 50h11v1h-11zM1029 50h5v1h-5zM394 51h17v1h-17zM414 51h4v1h-4zM598 51h27v1h-27zM640 51h5v1h-5zM650 51h13v1h-13zM668 51h7v1h-7zM686 51h5v1h-5zM808 51h3v1h-3zM838 51h4v1h-4zM878 51h19v1h-19zM900 51h4v1h-4zM910 51h11v1h-11zM1028 51h7v1h-7zM393 52h3v2h-3zM408 52h4v1h-4zM414 52h3v1h-3zM642 52h4v1h-4zM649 52h4v1h-4zM660 52h4v1h-4zM667 52h4v1h-4zM672 52h4v1h-4zM685 52h4v1h-4zM839 52h3v1h-3zM877 52h4v1h-4zM894 52h4v1h-4zM900 52h3v1h-3zM918 52h4v1h-4zM1027 52h4v1h-4zM1032 52h4v1h-4zM409 53h7v1h-7zM643 53h4v1h-4zM648 53h4v1h-4zM661 53h4v1h-4zM666 53h4v1h-4zM673 53h4v1h-4zM684 53h4v1h-4zM839 53h4v1h-4zM876 53h4v1h-4zM895 53h7v1h-7zM919 53h4v1h-4zM1026 53h4v1h-4zM1033 53h4v1h-4zM322 54h9v1h-9zM392 54h4v1h-4zM410 54h6v1h-6zM644 54h7v1h-7zM662 54h7v1h-7zM674 54h13v1h-13zM840 54h3v1h-3zM869 54h10v1h-10zM896 54h6v1h-6zM920 54h5v1h-5zM976 54h9v1h-9zM1006 54h3v1h-3zM1018 54h11v1h-11zM1034 54h5v1h-5zM1048 54h27v1h-27zM321 55h11v1h-11zM392 55h3v2h-3zM411 55h4v1h-4zM645 55h5v1h-5zM663 55h5v1h-5zM675 55h11v1h-11zM841 55h3v2h-3zM868 55h10v1h-10zM897 55h4v1h-4zM921 55h5v1h-5zM975 55h11v1h-11zM1005 55h5v1h-5zM1017 55h11v1h-11zM1035 55h5v1h-5zM1047 55h29v1h-29zM320 56h13v1h-13zM412 56h1v1h-1zM646 56h3v1h-3zM664 56h3v1h-3zM676 56h9v1h-9zM867 56h10v1h-10zM898 56h1v1h-1zM922 56h5v1h-5zM974 56h13v1h-13zM1004 56h7v1h-7zM1016 56h11v1h-11zM1036 56h5v1h-5zM1046 56h31v1h-31zM319 57h5v1h-5zM329 57h5v1h-5zM391 57h3v3h-3zM842 57h3v1h-3zM867 57h3v1h-3zM923 57h5v1h-5zM973 57h5v1h-5zM983 57h5v1h-5zM1003 57h9v1h-9zM1015 57h5v1h-5zM1037 57h5v1h-5zM1045 57h5v1h-5zM1073 57h5v1h-5zM318 58h5v1h-5zM330 58h5v1h-5zM842 58h4v1h-4zM866 58h4v1h-4zM924 58h5v1h-5zM972 58h5v1h-5zM984 58h5v1h-5zM1002 58h5v1h-5zM1008 58h5v1h-5zM1014 58h5v1h-5zM1038 58h5v1h-5zM1044 58h5v1h-5zM1074 58h5v1h-5zM317 59h5v1h-5zM331 59h5v1h-5zM843 59h3v1h-3zM866 59h3v1h-3zM925 59h5v1h-5zM971 59h5v1h-5zM985 59h5v1h-5zM1001 59h5v1h-5zM1009 59h9v1h-9zM1039 59h9v1h-9zM1075 59h5v1h-5zM316 60h5v1h-5zM332 60h5v1h-5zM390 60h3v2h-3zM843 60h16v1h-16zM865 60h3v2h-3zM926 60h29v1h-29zM970 60h5v1h-5zM986 60h19v1h-19zM1010 60h7v1h-7zM1040 60h7v1h-7zM1076 60h11v1h-11zM316 61h4v1h-4zM333 61h4v1h-4zM376 61h3v1h-3zM844 61h16v1h-16zM927 61h29v1h-29zM969 61h5v1h-5zM987 61h17v1h-17zM1011 61h5v1h-5zM1041 61h5v1h-5zM1077 61h11v1h-11zM315 62h4v1h-4zM334 62h3v1h-3zM375 62h4v1h-4zM389 62h4v1h-4zM845 62h16v1h-16zM864 62h3v1h-3zM928 62h29v1h-29zM968 62h5v1h-5zM988 62h15v1h-15zM1012 62h3v1h-3zM1042 62h3v1h-3zM1078 62h11v1h-11zM315 63h3v1h-3zM334 63h4v1h-4zM375 63h5v2h-5zM389 63h3v2h-3zM858 63h4v1h-4zM863 63h4v1h-4zM954 63h4v1h-4zM967 63h4v1h-4zM1086 63h4v1h-4zM314 64h3v1h-3zM335 64h3v4h-3zM859 64h7v1h-7zM955 64h4v1h-4zM966 64h4v1h-4zM1087 64h4v1h-4zM280 65h1v1h-1zM313 65h4v1h-4zM374 65h6v2h-6zM388 65h3v3h-3zM860 65h6v1h-6zM956 65h13v1h-13zM1088 65h5v1h-5zM250 66h3v1h-3zM279 66h4v1h-4zM313 66h3v1h-3zM861 66h4v1h-4zM957 66h11v1h-11zM1089 66h4v1h-4zM249 67h5v2h-5zM278 67h6v1h-6zM312 67h4v1h-4zM373 67h4v1h-4zM378 67h3v3h-3zM862 67h1v1h-1zM958 67h9v1h-9zM1090 67h3v1h-3zM277 68h7v1h-7zM312 68h3v1h-3zM336 68h3v4h-3zM373 68h3v2h-3zM387 68h3v2h-3zM1091 68h3v2h-3zM248 69h3v1h-3zM252 69h3v1h-3zM276 69h4v1h-4zM282 69h3v1h-3zM311 69h3v1h-3zM234 70h1v1h-1zM247 70h4v1h-4zM252 70h4v1h-4zM268 70h11v1h-11zM282 70h4v1h-4zM310 70h4v1h-4zM364 70h3v1h-3zM372 70h4v1h-4zM379 70h3v4h-3zM386 70h4v1h-4zM1091 70h4v1h-4zM232 71h4v1h-4zM247 71h3v1h-3zM253 71h3v1h-3zM267 71h11v1h-11zM283 71h3v1h-3zM310 71h3v2h-3zM363 71h5v1h-5zM372 71h3v1h-3zM386 71h3v2h-3zM1092 71h3v2h-3zM232 72h5v1h-5zM246 72h4v1h-4zM253 72h4v1h-4zM266 72h11v1h-11zM283 72h4v1h-4zM336 72h4v1h-4zM362 72h7v1h-7zM371 72h4v1h-4zM231 73h7v1h-7zM246 73h3v1h-3zM254 73h3v1h-3zM265 73h4v1h-4zM284 73h3v1h-3zM309 73h3v2h-3zM337 73h3v3h-3zM361 73h4v1h-4zM366 73h4v1h-4zM371 73h3v1h-3zM385 73h3v3h-3zM1093 73h3v3h-3zM231 74h3v1h-3zM235 74h4v1h-4zM245 74h3v1h-3zM255 74h3v1h-3zM264 74h4v1h-4zM285 74h3v1h-3zM360 74h4v1h-4zM367 74h7v1h-7zM380 74h3v3h-3zM88 75h9v1h-9zM106 75h1v1h-1zM230 75h4v1h-4zM236 75h12v1h-12zM255 75h12v1h-12zM285 75h15v1h-15zM308 75h4v1h-4zM347 75h16v1h-16zM368 75h6v1h-6zM87 76h11v1h-11zM105 76h4v1h-4zM230 76h3v2h-3zM237 76h10v1h-10zM256 76h10v1h-10zM286 76h15v1h-15zM308 76h3v2h-3zM337 76h4v1h-4zM346 76h16v1h-16zM369 76h4v1h-4zM384 76h3v1h-3zM1094 76h3v2h-3zM86 77h13v1h-13zM104 77h6v1h-6zM238 77h8v1h-8zM257 77h8v1h-8zM287 77h15v1h-15zM338 77h3v4h-3zM345 77h16v1h-16zM370 77h1v1h-1zM381 77h6v2h-6zM85 78h5v1h-5zM95 78h5v1h-5zM103 78h7v1h-7zM229 78h3v3h-3zM299 78h3v1h-3zM307 78h3v3h-3zM345 78h3v1h-3zM1094 78h4v1h-4zM84 79h5v1h-5zM96 79h5v1h-5zM102 79h9v1h-9zM299 79h4v1h-4zM344 79h4v1h-4zM381 79h5v2h-5zM1095 79h3v2h-3zM83 80h5v1h-5zM97 80h9v1h-9zM108 80h3v1h-3zM300 80h3v1h-3zM344 80h3v1h-3zM52 81h3v1h-3zM64 81h23v1h-23zM98 81h7v1h-7zM109 81h3v2h-3zM220 81h3v1h-3zM228 81h3v2h-3zM301 81h3v2h-3zM306 81h3v2h-3zM339 81h3v2h-3zM343 81h3v2h-3zM382 81h3v2h-3zM1096 81h3v1h-3zM1108 81h3v1h-3zM1120 81h1v1h-1zM51 82h5v1h-5zM63 82h23v1h-23zM99 82h5v1h-5zM219 82h5v1h-5zM1096 82h4v1h-4zM1107 82h5v1h-5zM1119 82h2v1h-2zM50 83h7v1h-7zM62 83h23v1h-23zM100 83h3v1h-3zM110 83h3v1h-3zM218 83h7v1h-7zM227 83h4v1h-4zM302 83h7v1h-7zM339 83h6v2h-6zM1096 83h5v1h-5zM1106 83h7v1h-7zM1118 83h3v1h-3zM49 84h4v1h-4zM54 84h4v1h-4zM61 84h4v1h-4zM110 84h4v1h-4zM217 84h4v1h-4zM222 84h4v1h-4zM227 84h3v1h-3zM302 84h6v1h-6zM1098 84h4v1h-4zM1105 84h4v1h-4zM1110 84h4v1h-4zM1117 84h4v1h-4zM48 85h4v1h-4zM55 85h4v1h-4zM60 85h4v1h-4zM111 85h3v1h-3zM216 85h4v1h-4zM223 85h7v1h-7zM303 85h5v1h-5zM339 85h5v1h-5zM1099 85h4v1h-4zM1104 85h4v1h-4zM1111 85h4v1h-4zM1116 85h4v1h-4zM46 86h5v1h-5zM56 86h7v1h-7zM111 86h4v1h-4zM214 86h5v1h-5zM224 86h5v1h-5zM303 86h4v1h-4zM340 86h4v1h-4zM1100 86h7v1h-7zM1112 86h7v1h-7zM10 87h3v1h-3zM45 87h5v1h-5zM57 87h5v1h-5zM112 87h4v1h-4zM213 87h5v1h-5zM225 87h4v1h-4zM304 87h3v1h-3zM340 87h3v1h-3zM1101 87h5v1h-5zM1113 87h5v1h-5zM10 88h4v1h-4zM44 88h5v1h-5zM58 88h3v1h-3zM112 88h5v1h-5zM212 88h5v1h-5zM226 88h1v1h-1zM1102 88h3v1h-3zM1114 88h3v1h-3zM9 89h5v1h-5zM43 89h4v1h-4zM114 89h4v1h-4zM211 89h4v1h-4zM9 90h6v1h-6zM42 90h4v1h-4zM115 90h4v1h-4zM210 90h4v1h-4zM8 91h8v1h-8zM40 91h5v1h-5zM116 91h11v1h-11zM136 91h9v1h-9zM208 91h5v1h-5zM8 92h3v2h-3zM13 92h3v1h-3zM39 92h5v1h-5zM117 92h11v1h-11zM135 92h11v1h-11zM207 92h5v1h-5zM13 93h4v1h-4zM38 93h5v1h-5zM118 93h11v1h-11zM134 93h13v1h-13zM206 93h5v1h-5zM7 94h3v3h-3zM14 94h3v1h-3zM37 94h4v1h-4zM126 94h4v1h-4zM133 94h4v1h-4zM144 94h4v1h-4zM205 94h4v1h-4zM15 95h3v1h-3zM36 95h4v1h-4zM127 95h4v1h-4zM132 95h4v1h-4zM145 95h4v1h-4zM204 95h4v1h-4zM15 96h4v1h-4zM28 96h11v1h-11zM128 96h7v1h-7zM146 96h5v1h-5zM185 96h8v1h-8zM202 96h5v1h-5zM6 97h3v2h-3zM16 97h4v1h-4zM27 97h11v1h-11zM129 97h5v1h-5zM147 97h5v1h-5zM184 97h10v1h-10zM201 97h5v1h-5zM16 98h5v1h-5zM26 98h11v1h-11zM130 98h3v1h-3zM148 98h5v1h-5zM184 98h11v1h-11zM200 98h5v1h-5zM5 99h4v1h-4zM17 99h5v1h-5zM25 99h5v1h-5zM149 99h5v1h-5zM183 99h4v1h-4zM191 99h5v1h-5zM199 99h5v1h-5zM5 100h3v2h-3zM18 100h5v1h-5zM24 100h5v1h-5zM150 100h5v1h-5zM183 100h3v3h-3zM192 100h5v1h-5zM198 100h5v1h-5zM19 101h9v1h-9zM151 101h5v1h-5zM193 101h9v1h-9zM5 102h2v2h-2zM20 102h7v1h-7zM152 102h5v1h-5zM194 102h7v1h-7zM21 103h5v1h-5zM153 103h4v1h-4zM182 103h3v3h-3zM195 103h5v1h-5zM22 104h3v1h-3zM154 104h3v1h-3zM196 104h3v1h-3zM155 105h3v2h-3zM181 106h4v1h-4zM155 107h4v1h-4zM181 107h3v3h-3zM156 108h3v2h-3zM157 110h3v3h-3zM180 110h4v1h-4zM180 111h3v3h-3zM158 113h3v2h-3zM179 114h3v3h-3zM158 115h4v1h-4zM159 116h3v2h-3zM178 117h4v1h-4zM160 118h21v2h-21zM161 120h19v1h-19z" fill="#008000"/>
</g>
<g shape-rendering="crispEdges">
<polyline points="5.5,198.5 11.5,198.5 17.5,198.5 23.5,196.5 29.5,196.5 35.5,195.5 41.5,195.5 47.5,195.5 53.5,195.5 59.5,195.5 65.5,195.5 71.5,196.5 77.5,196.5 83.5,196.5 89.5,196.5 95.5,196.5 101.5,196.5 107.5,196.5 113.5,196.5 119.5,196.5 125.5,196.5 131.5,194.5 137.5,194.5 143.5,194.5 149.5,194.5 155.5,194.5 161.5,194.5 167.5,194.5 173.5,194.5 179.5,194.5 185.5,199.5 191.5,200.5 197.5,199.5 203.5,198.5 209.5,192.5 215.5,192.5 221.5,190.5 227.5,183.5 233.5,176.5 239.5,151.5 245.5,147.5 251.5,147.5 257.5,147.5 263.5,140.5 269.5,140.5 275.5,136.5 281.5,132.5 287.5,129.5 293.5,125.5 299.5,125.5 305.5,125.5 311.5,122.5 317.5,121.5 323.5,121.5 329.5,121.5 335.5,121.5 341.5,120.5 347.5,116.5 353.5,116.5 359.5,112.5 365.5,109.5 371.5,109.5 377.5,107.5 383.5,103.5 389.5,100.5 395.5,92.5 401.5,91.5 407.5,91.5 413.5,88.5 419.5,88.5 425.5,90.5 431.5,91.5 437.5,92.5 443.5,92.5 449.5,92.5 455.5,92.5 461.5,97.5 467.5,99.5 473.5,99.5 479.5,101.5 485.5,101.5 491.5,101.5 497.5,103.5 503.5,104.5 509.5,104.5 515.5,101.5 521.5,100.5 527.5,100.5 533.5,96.5 539.5,92.5 545.5,92.5 551.5,90.5 557.5,86.5 563.5,86.5 569.5,84.5 575.5,83.5 581.5,83.5 587.5,83.5 593.5,83.5 599.5,82.5 605.5,83.5 611.5,84.5 617.5,78.5 623.5,78.5 629.5,78.5 635.5,76.5 641.5,74.5 647.5,74.5 653.5,74.5 659.5,72.5 665.5,72.5 671.5,71.5 677.5,72.5 683.5,74.5 689.5,74.5 695.5,71.5 701.5,55.5 707.5,55.5 713.5,55.5 719.5,55.5 725.5,55.5 731.5,55.5 737.5,55.5 743.5,53.5 749.5,47.5 755.5,50.5 761.5,50.5 767.5,49.5 773.5,47.5 779.5,46.5 785.5,46.5 791.5,46.5 797.5,45.5 803.5,45.5 809.5,44.5 815.5,44.5 821.5,44.5 827.5,42.5 833.5,44.5 839.5,44.5 845.5,41.5 851.5,37.5 857.5,38.5 863.5,38.5 869.5,38.5 875.5,37.5 881.5,36.5 887.5,37.5 893.5,37.5 899.5,40.5 905.5,40.5 911.5,40.5 917.5,40.5 923.5,40.5 929.5,40.5 935.5,41.5 941.5,44.5 947.5,44.5 953.5,44.5 959.5,44.5 965.5,44.5 971.5,45.5 977.5,45.5 983.5,45.5 989.5,47.5 995.5,46.5 1001.5,46.5 1007.5,46.5 1013.5,46.5 1019.5,46.5 1025.5,46.5 1031.5,46.5 1037.5,47.5 1043.5,44.5 1049.5,44.5 1055.5,44.5 1061.5,44.5 1067.5,44.5 1073.5,44.5 1079.5,44.5 1085.5,44.5 1091.5,44.5 1097.5,42.5 1103.5,42.5 1109.5,44.5 1115.5,44.5 1121.5,44.5 1123,44.5" fill="none" stroke="#00ffff" stroke-width="1"/>
<polyline points="5.5,205.5 11.5,205.5 17.5,205.5 23.5,205.5 29.5,205.5 35.5,205.5 41.5,205.5 47.5,205.5 53.5,205.5 59.5,205.5 65.5,205.5 71.5,205.5 77.5,205.5 83.5,205.5 89.5,205.5 95.5,205.5 101.5,205.5 107.5,205.5 113.5,205.5 119.5,205.5 125.5,205.5 131.5,205.5 137.5,205.5 143.5,205.5 149.5,203.5 155.5,203.5 161.5,203.5 167.5,203.5 173.5,203.5 179.5,200.5 185.5,200.5 191.5,200.5 197.5,199.5 203.5,198.5 209.5,192.5 215.5,192.5 221.5,190.5 227.5,183.5 233.5,176.5 239.5,153.5 245.5,153.5 251.5,153.5 257.5,153.5 263.5,147.5 269.5,147.5 275.5,147.5 281.5,147.5 287.5,147.5 293.5,147.5 299.5,147.5 305.5,147.5 311.5,147.5 317.5,147.5 323.5,147.5 329.5,147.5 335.5,147.5 341.5,147.5 347.5,147.5 353.5,147.5 359.5,145.5 365.5,145.5 371.5,145.5 377.5,145.5 383.5,145.5 389.5,145.5 395.5,145.5 401.5,145.5 407.5,145.5 413.5,145.5 419.5,145.5 425.5,145.5 431.5,145.5 437.5,145.5 443.5,145.5 449.5,145.5 455.5,145.5 461.5,145.5 467.5,145.5 473.5,145.5 479.5,145.5 485.5,145.5 491.5,145.5 497.5,142.5 503.5,134.5 509.5,134.5 515.5,134.5 521.5,129.5 527.5,129.5 533.5,121.5 539.5,113.5 545.5,108.5 551.5,95.5 557.5,92.5 563.5,92.5 569.5,92.5 575.5,92.5 581.5,92.5 587.5,92.5 593.5,92.5 599.5,92.5 605.5,92.5 611.5,92.5 617.5,87.5 623.5,87.5 629.5,87.5 635.5,87.5 641.5,87.5 647.5,87.5 653.5,87.5 659.5,87.5 665.5,87.5 671.5,87.5 677.5,87.5 683.5,87.5 689.5,87.5 695.5,87.5 701.5,71.5 707.5,71.5 713.5,71.5 719.5,71.5 725.5,71.5 731.5,71.5 737.5,71.5 743.5,71.5 749.5,71.5 755.5,71.5 761.5,71.5 767.5,71.5 773.5,71.5 779.5,71.5 785.5,71.5 791.5,69.5 797.5,61.5 803.5,61.5 809.5,61.5 815.5,58.5 821.5,58.5 827.5,55.5 833.5,55.5 839.5,55.5 845.5,55.5 851.5,55.5 857.5,55.5 863.5,55.5 869.5,55.5 875.5,55.5 881.5,55.5 887.5,55.5 893.5,55.5 899.5,55.5 905.5,55.5 911.5,55.5 917.5,55.5 923.5,55.5 929.5,55.5 935.5,55.5 941.5,55.5 947.5,55.5 953.5,55.5 959.5,55.5 965.5,55.5 971.5,55.5 977.5,55.5 983.5,55.5 989.5,55.5 995.5,55.5 1001.5,48.5 1007.5,40.5 1013.5,42.5 1019.5,42.5 1025.5,40.5 1031.5,40.5 1037.5,40.5 1043.5,40.5 1049.5,40.5 1055.5,40.5 1061.5,40.5 1067.5,40.5 1073.5,40.5 1079.5,40.5 1085.5,40.5 1091.5,40.5 1097.5,40.5 1103.5,40.5 1109.5,40.5 1115.5,40.5 1121.5,40.5 1123,40.5" fill="none" stroke="#ff0000" stroke-width="1"/>
<rect x="5" y="198" width="1" height="8" fill="#ff0000"/>
<rect x="11" y="198" width="1" height="8" fill="#ff0000"/>
<rect x="17" y="198" width="1" height="8" fill="#ff0000"/>
<rect x="23" y="196" width="1" height="10" fill="#ff0000"/>
<rect x="29" y="196" width="1" height="10" fill="#ff0000"/>
<rect x="35" y="195" width="1" height="11" fill="#ff0000"/>
<rect x="41" y="195" width="1" height="11" fill="#ff0000"/>
<rect x="47" y="195" width="1" height="11" fill="#ff0000"/>
<rect x="53" y="195" width="1" height="11" fill="#ff0000"/>
<rect x="59" y="195" width="1" height="11" fill="#ff0000"/>
<rect x="65" y="195" width="1" height="11" fill="#ff0000"/>
<rect x="71" y="196" width="1" height="10" fill="#ff0000"/>
<rect x="77" y="196" width="1" height="10" fill="#ff0000"/>
<rect x="83" y="196" width="1" height="10" fill="#ff0000"/>
<rect x="89" y="196" width="1" height="10" fill="#ff0000"/>
<rect x="95" y="196" width="1" height="10" fill="#ff0000"/>
<rect x="101" y="196" width="1" height="10" fill="#ff0000"/>
<rect x="107" y="196" width="1" height="10" fill="#ff0000"/>
<rect x="113" y="196" width="1" height="10" fill="#ff0000"/>
<rect x="119" y="196" width="1" height="10" fill="#ff0000"/>
<rect x="125" y="196" width="1" height="10" fill="#ff0000"/>
<rect x="131" y="194" width="1" height="12" fill="#ff0000"/>
<rect x="137" y="194" width="1" height="12" fill="#ff0000"/>
<rect x="143" y="194" width="1" height="12" fill="#ff0000"/>
<rect x="149" y="194" width="1" height="10" fill="#ff0000"/>
<rect x="155" y="194" width="1" height="10" fill="#ff0000"/>
<rect x="161" y="194" width="1" height="10" fill="#ff0000"/>
<rect x="167" y="194" width="1" height="10" fill="#ff0000"/>
<rect x="173" y="194" width="1" height="10" fill="#ff0000"/>
<rect x="179" y="194" width="1" height="7" fill="#ff0000"/>
<rect x="185" y="199" width="1" height="2" fill="#ff0000"/>
<rect x="191" y="200" width="1" height="1" fill="#ff0000"/>
<rect x="197" y="199" width="1" height="1" fill="#ff0000"/>
<rect x="203" y="198" width="1" height="1" fill="#ff0000"/>
<rect x="209" y="192" width="1" height="1" fill="#ff0000"/>
<rect x="215" y="192" width="1" height="1" fill="#ff0000"/>
<rect x="221" y="190" width="1" height="1" fill="#ff0000"/>
<rect x="227" y="183" width="1" height="1" fill="#ff0000"/>
<rect x="233" y="176" width="1" height="1" fill="#ff0000"/>
<rect x="239" y="151" width="1" height="3" fill="#ff0000"/>
<rect x="245" y="147" width="1" height="7" fill="#ff0000"/>
<rect x="251" y="147" width="1" height="7" fill="#ff0000"/>
<rect x="257" y="147" width="1" height="7" fill="#ff0000"/>
<rect x="263" y="140" width="1" height="8" fill="#ff0000"/>
<rect x="269" y="140" width="1" height="8" fill="#ff0000"/>
<rect x="275" y="136" width="1" height="12" fill="#ff0000"/>
<rect x="281" y="132" width="1" height="16" fill="#ff0000"/>
<rect x="287" y="129" width="1" height="19" fill="#ff0000"/>
<rect x="293" y="125" width="1" height="23" fill="#ff0000"/>
<rect x="299" y="125" width="1" height="23" fill="#ff0000"/>
<rect x="305" y="125" width="1" height="23" fill="#ff0000"/>
<rect x="311" y="122" width="1" height="26" fill="#ff0000"/>
<rect x="317" y="121" width="1" height="27" fill="#ff0000"/>
<rect x="323" y="121" width="1" height="27" fill="#ff0000"/>
<rect x="329" y="121" width="1" height="27" fill="#ff0000"/>
<rect x="335" y="121" width="1" height="27" fill="#ff0000"/>
<rect x="341" y="120" width="1" height="28" fill="#ff0000"/>
<rect x="347" y="116" width="1" height="32" fill="#ff0000"/>
<rect x="353" y="116" width="1" height="32" fill="#ff0000"/>
<rect x="359" y="112" width="1" height="34" fill="#ff0000"/>
<rect x="365" y="109" width="1" height="37" fill="#ff0000"/>
<rect x="371" y="109" width="1" height="37" fill="#ff0000"/>
<rect x="377" y="107" width="1" height="39" fill="#ff0000"/>
<rect x="383" y="103" width="1" height="43" fill="#ff0000"/>
<rect x="389" y="100" width="1" height="46" fill="#ff0000"/>
<rect x="395" y="92" width="1" height="54" fill="#ff0000"/>
<rect x="401" y="91" width="1" height="55" fill="#ff0000"/>
<rect x="407" y="91" width="1" height="55" fill="#ff0000"/>
<rect x="413" y="88" width="1" height="58" fill="#ff0000"/>
<rect x="419" y="88" width="1" height="58" fill="#ff0000"/>
<rect x="425" y="90" width="1" height="56" fill="#ff0000"/>
<rect x="431" y="91" width="1" height="55" fill="#ff0000"/>
<rect x="437" y="92" width="1" height="54" fill="#ff0000"/>
<rect x="443" y="92" width="1" height="54" fill="#ff0000"/>
<rect x="449" y="92" width="1" height="54" fill="#ff0000"/>
<rect x="455" y="92" width="1" height="54" fill="#ff0000"/>
<rect x="461" y="97" width="1" height="49" fill="#ff0000"/>
<rect x="467" y="99" width="1" height="47" fill="#ff0000"/>
<rect x="473" y="99" width="1" height="47" fill="#ff0000"/>
<rect x="479" y="101" width="1" height="45" fill="#ff0000"/>
<rect x="485" y="101" width="1" height="45" fill="#ff0000"/>
<rect x="491" y="101" width="1" height="45" fill="#ff0000"/>
<rect x="497" y="103" width="1" height="40" fill="#ff0000"/>
<rect x="503" y="104" width="1" height="31" fill="#ff0000"/>
<rect x="509" y="104" width="1" height="31" fill="#ff0000"/>
<rect x="515" y="101" width="1" height="34" fill="#ff0000"/>
<rect x="521" y="100" width="1" height="30" fill="#ff0000"/>
<rect x="527" y="100" width="1" height="30" fill="#ff0000"/>
<rect x="533" y="96" width="1" height="26" fill="#ff0000"/>
<rect x="539" y="92" width="1" height="22" fill="#ff0000"/>
<rect x="545" y="92" width="1" height="17" fill="#ff0000"/>
<rect x="551" y="90" width="1" height="6" fill="#ff0000"/>
<rect x="557" y="86" width="1" height="7" fill="#ff0000"/>
<rect x="563" y="86" width="1" height="7" fill="#ff0000"/>
<rect x="569" y="84" width="1" height="9" fill="#ff0000"/>
<rect x="575" y="83" width="1" height="10" fill="#ff0000"/>
<rect x="581" y="83" width="1" height="10" fill="#ff0000"/>
<rect x="587" y="83" width="1" height="10" fill="#ff0000"/>
<rect x="593" y="83" width="1" height="10" fill="#ff0000"/>
<rect x="599" y="82" width="1" height="11" fill="#ff0000"/>
<rect x="605" y="83" width="1" height="10" fill="#ff0000"/>
<rect x="611" y="84" width="1" height="9" fill="#ff0000"/>
<rect x="617" y="78" width="1" height="10" fill="#ff0000"/>
<rect x="623" y="78" width="1" height="10" fill="#ff0000"/>
<rect x="629" y="78" width="1" height="10" fill="#ff0000"/>
<rect x="635" y="76" width="1" height="12" fill="#ff0000"/>
<rect x="641" y="74" width="1" height="14" fill="#ff0000"/>
<rect x="647" y="74" width="1" height="14" fill="#ff0000"/>
<rect x="653" y="74" width="1" height="14" fill="#ff0000"/>
<rect x="659" y="72" width="1" height="16" fill="#ff0000"/>
<rect x="665" y="72" width="1" height="16" fill="#ff0000"/>
<rect x="671" y="71" width="1" height="17" fill="#ff0000"/>
<rect x="677" y="72" width="1" height="16" fill="#ff0000"/>
<rect x="683" y="74" width="1" height="14" fill="#ff0000"/>
<rect x="689" y="74" width="1" height="14" fill="#ff0000"/>
<rect x="695" y="71" width="1" height="17" fill="#ff0000"/>
<rect x="701" y="55" width="1" height="17" fill="#ff0000"/>
<rect x="707" y="55" width="1" height="17" fill="#ff0000"/>
<rect x="713" y="55" width="1" height="17" fill="#ff0000"/>
<rect x="719" y="55" width="1" height="17" fill="#ff0000"/>
<rect x="725" y="55" width="1" height="17" fill="#ff0000"/>
<rect x="731" y="55" width="1" height="17" fill="#ff0000"/>
<rect x="737" y="55" width="1" height="17" fill="#ff0000"/>
<rect x="743" y="53" width="1" height="19" fill="#ff0000"/>
<rect x="749" y="47" width="1" height="25" fill="#ff0000"/>
<rect x="755" y="50" width="1" height="22" fill="#ff0000"/>
<rect x="761" y="50" width="1" height="22" fill="#ff0000"/>
<rect x="767" y="49" width="1" height="23" fill="#ff0000"/>
<rect x="773" y="47" width="1" height="25" fill="#ff0000"/>
<rect x="779" y="46" width="1" height="26" fill="#ff0000"/>
<rect x="785" y="46" width="1" height="26" fill="#ff0000"/>
<rect x="791" y="46" width="1" height="24" fill="#ff0000"/>
<rect x="797" y="45" width="1" height="17" fill="#ff0000"/>
<rect x="803" y="45" width="1" height="17" fill="#ff0000"/>
<rect x="809" y="44" width="1" height="18" fill="#ff0000"/>
<rect x="815" y="44" width="1" height="15" fill="#ff0000"/>
<rect x="821" y="44" width="1" height="15" fill="#ff0000"/>
<rect x="827" y="42" width="1" height="14" fill="#ff0000"/>
<rect x="833" y="44" width="1" height="12" fill="#ff0000"/>
<rect x="839" y="44" width="1" height="12" fill="#ff0000"/>
<rect x="845" y="41" width="1" height="15" fill="#ff0000"/>
<rect x="851" y="37" width="1" height="19" fill="#ff0000"/>
<rect x="857" y="38" width="1" height="18" fill="#ff0000"/>
<rect x="863" y="38" width="1" height="18" fill="#ff0000"/>
<rect x="869" y="38" width="1" height="18" fill="#ff0000"/>
<rect x="875" y="37" width="1" height="19" fill="#ff0000"/>
<rect x="881" y="36" width="1" height="20" fill="#ff0000"/>
<rect x="887" y="37" width="1" height="19" fill="#ff0000"/>
<rect x="893" y="37" width="1" height="19" fill="#ff0000"/>
<rect x="899" y="40" width="1" height="16" fill="#ff0000"/>
<rect x="905" y="40" width="1" height="16" fill="#ff0000"/>
<rect x="911" y="40" width="1" height="16" fill="#ff0000"/>
<rect x="917" y="40" width="1" height="16" fill="#ff0000"/>
<rect x="923" y="40" width="1" height="16" fill="#ff0000"/>
<rect x="929" y="40" width="1" height="16" fill="#ff0000"/>
<rect x="935" y="41" width="1" height="15" fill="#ff0000"/>
<rect x="941" y="44" width="1" height="12" fill="#ff0000"/>
<rect x="947" y="44" width="1" height="12" fill="#ff0000"/>
<rect x="953" y="44" width="1" height="12" fill="#ff0000"/>
<rect x="959" y="44" width="1" height="12" fill="#ff0000"/>
<rect x="965" y="44" width="1" height="12" fill="#ff0000"/>
<rect x="971" y="45" width="1" height="11" fill="#ff0000"/>
<rect x="977" y="45" width="1" height="11" fill="#ff0000"/>
<rect x="983" y="45" width="1" height="11" fill="#ff0000"/>
<rect x="989" y="47" width="1" height="9" fill="#ff0000"/>
<rect x="995" y="46" width="1" height="10" fill="#ff0000"/>
<rect x="1001" y="46" width="1" height="3" fill="#ff0000"/>
<rect x="1007" y="42" width="1" height="5" fill="#0000ff"/>
<rect x="1013" y="44" width="1" height="3" fill="#0000ff"/>
<rect x="1019" y="44" width="1" height="3" fill="#0000ff"/>
<rect x="1025" y="42" width="1" height="5" fill="#0000ff"/>
<rect x="1031" y="42" width="1" height="5" fill="#0000ff"/>
<rect x="1037" y="42" width="1" height="6" fill="#0000ff"/>
<rect x="1043" y="42" width="1" height="3" fill="#0000ff"/>
<rect x="1049" y="42" width="1" height="3" fill="#0000ff"/>
<rect x="1055" y="42" width="1" height="3" fill="#0000ff"/>
<rect x="1061" y="42" width="1" height="3" fill="#0000ff"/>
<rect x="1067" y="42" width="1" height="3" fill="#0000ff"/>
<rect x="1073" y="42" width="1" height="3" fill="#0000ff"/>
<rect x="1079" y="42" width="1" height="3" fill="#0000ff"/>
<rect x="1085" y="42" width="1" height="3" fill="#0000ff"/>
<rect x="1091" y="42" width="1" height="3" fill="#0000ff"/>
<rect x="1097" y="42" width="1" height="1" fill="#0000ff"/>
<rect x="1103" y="42" width="1" height="1" fill="#0000ff"/>
<rect x="1109" y="42" width="1" height="3" fill="#0000ff"/>
<rect x="1115" y="42" width="1" height="3" fill="#0000ff"/>
<rect x="1121" y="42" width="1" height="3" fill="#0000ff"/>
</g>
<g shape-rendering="crispEdges">
<rect x="5" y="197" width="1" height="1" fill="#0000ff"/>
<rect x="4" y="197" width="3" height="1" fill="#0000ff"/>
<rect x="11" y="197" width="1" height="1" fill="#0000ff"/>
<rect x="10" y="197" width="3" height="1" fill="#0000ff"/>
<rect x="17" y="192" width="1" height="6" fill="#ff0000"/>
<rect x="16" y="192" width="3" height="6" fill="#ff0000"/>
<rect x="23" y="187" width="1" height="11" fill="#0000ff"/>
<rect x="22" y="192" width="3" height="1" fill="#0000ff"/>
<rect x="29" y="192" width="1" height="1" fill="#0000ff"/>
<rect x="28" y="192" width="3" height="1" fill="#0000ff"/>
<rect x="35" y="192" width="1" height="22" fill="#ff0000"/>
<rect x="34" y="197" width="3" height="17" fill="#ff0000"/>
<rect x="41" y="182" width="1" height="27" fill="#ff0000"/>
<rect x="40" y="187" width="3" height="11" fill="#ff0000"/>
<rect x="47" y="182" width="1" height="11" fill="#0000ff"/>
<rect x="46" y="187" width="3" height="1" fill="#0000ff"/>
<rect x="53" y="182" width="1" height="11" fill="#ff0000"/>
<rect x="52" y="187" width="3" height="6" fill="#ff0000"/>
<rect x="59" y="171" width="1" height="22" fill="#ff0000"/>
<rect x="58" y="182" width="3" height="6" fill="#ff0000"/>
<rect x="65" y="176" width="1" height="7" fill="#0000ff"/>
<rect x="64" y="182" width="3" height="1" fill="#0000ff"/>
<rect x="71" y="166" width="1" height="17" fill="#ff0000"/>
<rect x="70" y="171" width="3" height="12" fill="#ff0000"/>
<rect x="77" y="150" width="1" height="22" fill="#ff0000"/>
<rect x="76" y="155" width="3" height="17" fill="#ff0000"/>
<rect x="83" y="140" width="1" height="16" fill="#ff0000"/>
<rect x="82" y="145" width="3" height="11" fill="#ff0000"/>
<rect x="89" y="92" width="1" height="54" fill="#ff0000"/>
<rect x="88" y="113" width="3" height="33" fill="#ff0000"/>
<rect x="95" y="108" width="1" height="12" fill="#0000ff"/>
<rect x="94" y="113" width="3" height="1" fill="#0000ff"/>
<rect x="101" y="108" width="1" height="17" fill="#0000ff"/>
<rect x="100" y="113" width="3" height="7" fill="#0000ff"/>
<rect x="107" y="108" width="1" height="17" fill="#ff0000"/>
<rect x="106" y="108" width="3" height="17" fill="#ff0000"/>
<rect x="113" y="82" width="1" height="32" fill="#ff0000"/>
<rect x="112" y="87" width="3" height="27" fill="#ff0000"/>
<rect x="119" y="87" width="1" height="11" fill="#0000ff"/>
<rect x="118" y="92" width="3" height="1" fill="#0000ff"/>
<rect x="125" y="87" width="1" height="17" fill="#0000ff"/>
<rect x="124" y="92" width="3" height="6" fill="#0000ff"/>
<rect x="131" y="92" width="1" height="6" fill="#ff0000"/>
<rect x="130" y="92" width="3" height="6" fill="#ff0000"/>
<rect x="137" y="92" width="1" height="12" fill="#0000ff"/>
<rect x="136" y="97" width="3" height="7" fill="#0000ff"/>
<rect x="143" y="92" width="1" height="12" fill="#ff0000"/>
<rect x="142" y="97" width="3" height="1" fill="#ff0000"/>
<rect x="149" y="82" width="1" height="22" fill="#0000ff"/>
<rect x="148" y="97" width="3" height="1" fill="#0000ff"/>
<rect x="155" y="97" width="1" height="12" fill="#0000ff"/>
<rect x="154" y="103" width="3" height="1" fill="#0000ff"/>
<rect x="161" y="82" width="1" height="22" fill="#ff0000"/>
<rect x="160" y="87" width="3" height="17" fill="#ff0000"/>
<rect x="167" y="87" width="1" height="11" fill="#0000ff"/>
<rect x="166" y="92" width="3" height="6" fill="#0000ff"/>
<rect x="173" y="92" width="1" height="12" fill="#0000ff"/>
<rect x="172" y="97" width="3" height="7" fill="#0000ff"/>
<rect x="179" y="92" width="1" height="12" fill="#ff0000"/>
<rect x="178" y="97" width="3" height="7" fill="#ff0000"/>
<rect x="185" y="97" width="1" height="7" fill="#0000ff"/>
<rect x="184" y="97" width="3" height="1" fill="#0000ff"/>
<rect x="191" y="87" width="1" height="17" fill="#ff0000"/>
<rect x="190" y="92" width="3" height="6" fill="#ff0000"/>
<rect x="197" y="82" width="1" height="11" fill="#ff0000"/>
<rect x="196" y="87" width="3" height="6" fill="#ff0000"/>
<rect x="203" y="82" width="1" height="6" fill="#ff0000"/>
<rect x="202" y="82" width="3" height="6" fill="#ff0000"/>
<rect x="209" y="76" width="1" height="12" fill="#0000ff"/>
<rect x="208" y="87" width="3" height="1" fill="#0000ff"/>
<rect x="215" y="82" width="1" height="6" fill="#ff0000"/>
<rect x="214" y="82" width="3" height="1" fill="#ff0000"/>
<rect x="221" y="82" width="1" height="6" fill="#0000ff"/>
<rect x="220" y="82" width="3" height="1" fill="#0000ff"/>
<rect x="227" y="76" width="1" height="12" fill="#ff0000"/>
<rect x="226" y="82" width="3" height="6" fill="#ff0000"/>
<rect x="233" y="76" width="1" height="7" fill="#0000ff"/>
<rect x="232" y="82" width="3" height="1" fill="#0000ff"/>
<rect x="239" y="76" width="1" height="12" fill="#ff0000"/>
<rect x="238" y="76" width="3" height="7" fill="#ff0000"/>
<rect x="245" y="76" width="1" height="7" fill="#ff0000"/>
<rect x="244" y="76" width="3" height="7" fill="#ff0000"/>
<rect x="251" y="76" width="1" height="7" fill="#0000ff"/>
<rect x="250" y="82" width="3" height="1" fill="#0000ff"/>
<rect x="257" y="76" width="1" height="7" fill="#ff0000"/>
<rect x="256" y="76" width="3" height="7" fill="#ff0000"/>
<rect x="263" y="76" width="1" height="12" fill="#0000ff"/>
<rect x="262" y="82" width="3" height="6" fill="#0000ff"/>
<rect x="269" y="82" width="1" height="11" fill="#0000ff"/>
<rect x="268" y="87" width="3" height="6" fill="#0000ff"/>
<rect x="275" y="87" width="1" height="11" fill="#0000ff"/>
<rect x="274" y="92" width="3" height="1" fill="#0000ff"/>
<rect x="281" y="92" width="1" height="12" fill="#0000ff"/>
<rect x="280" y="92" width="3" height="6" fill="#0000ff"/>
<rect x="287" y="92" width="1" height="17" fill="#ff0000"/>
<rect x="286" y="92" width="3" height="12" fill="#ff0000"/>
<rect x="293" y="82" width="1" height="11" fill="#0000ff"/>
<rect x="292" y="92" width="3" height="1" fill="#0000ff"/>
<rect x="299" y="87" width="1" height="17" fill="#0000ff"/>
<rect x="298" y="92" width="3" height="6" fill="#0000ff"/>
<rect x="305" y="92" width="1" height="12" fill="#0000ff"/>
<rect x="304" y="97" width="3" height="7" fill="#0000ff"/>
<rect x="311" y="97" width="1" height="23" fill="#0000ff"/>
<rect x="310" y="97" width="3" height="23" fill="#0000ff"/>
<rect x="317" y="108" width="1" height="12" fill="#0000ff"/>
<rect x="316" y="113" width="3" height="7" fill="#0000ff"/>
<rect x="323" y="113" width="1" height="7" fill="#0000ff"/>
<rect x="322" y="119" width="3" height="1" fill="#0000ff"/>
<rect x="329" y="113" width="1" height="12" fill="#0000ff"/>
<rect x="328" y="119" width="3" height="1" fill="#0000ff"/>
<rect x="335" y="97" width="1" height="23" fill="#ff0000"/>
<rect x="334" y="97" width="3" height="17" fill="#ff0000"/>
<rect x="341" y="92" width="1" height="12" fill="#0000ff"/>
<rect x="340" y="97" width="3" height="1" fill="#0000ff"/>
<rect x="347" y="97" width="1" height="7" fill="#0000ff"/>
<rect x="346" y="103" width="3" height="1" fill="#0000ff"/>
<rect x="353" y="92" width="1" height="12" fill="#ff0000"/>
<rect x="352" y="97" width="3" height="7" fill="#ff0000"/>
<rect x="359" y="92" width="1" height="6" fill="#ff0000"/>
<rect x="358" y="92" width="3" height="6" fill="#ff0000"/>
<rect x="365" y="82" width="1" height="16" fill="#ff0000"/>
<rect x="364" y="87" width="3" height="6" fill="#ff0000"/>
<rect x="371" y="76" width="1" height="17" fill="#ff0000"/>
<rect x="370" y="82" width="3" height="6" fill="#ff0000"/>
<rect x="377" y="76" width="1" height="12" fill="#0000ff"/>
<rect x="376" y="82" width="3" height="6" fill="#0000ff"/>
<rect x="383" y="71" width="1" height="17" fill="#ff0000"/>
<rect x="382" y="71" width="3" height="17" fill="#ff0000"/>
<rect x="389" y="71" width="1" height="6" fill="#0000ff"/>
<rect x="388" y="71" width="3" height="6" fill="#0000ff"/>
<rect x="395" y="71" width="1" height="17" fill="#0000ff"/>
<rect x="394" y="71" width="3" height="6" fill="#0000ff"/>
<rect x="401" y="66" width="1" height="17" fill="#ff0000"/>
<rect x="400" y="66" width="3" height="11" fill="#ff0000"/>
<rect x="407" y="61" width="1" height="16" fill="#0000ff"/>
<rect x="406" y="66" width="3" height="11" fill="#0000ff"/>
<rect x="413" y="71" width="1" height="6" fill="#0000ff"/>
<rect x="412" y="71" width="3" height="6" fill="#0000ff"/>
<rect x="419" y="66" width="1" height="11" fill="#ff0000"/>
<rect x="418" y="71" width="3" height="6" fill="#ff0000"/>
<rect x="425" y="71" width="1" height="6" fill="#0000ff"/>
<rect x="424" y="71" width="3" height="1" fill="#0000ff"/>
<rect x="431" y="66" width="1" height="17" fill="#ff0000"/>
<rect x="430" y="66" width="3" height="11" fill="#ff0000"/>
<rect x="437" y="66" width="1" height="17" fill="#0000ff"/>
<rect x="436" y="66" width="3" height="11" fill="#0000ff"/>
<rect x="443" y="76" width="1" height="7" fill="#0000ff"/>
<rect x="442" y="76" width="3" height="1" fill="#0000ff"/>
<rect x="449" y="76" width="1" height="7" fill="#ff0000"/>
<rect x="448" y="76" width="3" height="7" fill="#ff0000"/>
<rect x="455" y="76" width="1" height="12" fill="#0000ff"/>
<rect x="454" y="76" width="3" height="12" fill="#0000ff"/>
<rect x="461" y="66" width="1" height="22" fill="#ff0000"/>
<rect x="460" y="71" width="3" height="12" fill="#ff0000"/>
<rect x="467" y="50" width="1" height="17" fill="#ff0000"/>
<rect x="466" y="61" width="3" height="6" fill="#ff0000"/>
<rect x="473" y="50" width="1" height="12" fill="#ff0000"/>
<rect x="472" y="55" width="3" height="7" fill="#ff0000"/>
<rect x="479" y="55" width="1" height="1" fill="#0000ff"/>
<rect x="478" y="55" width="3" height="1" fill="#0000ff"/>
<rect x="485" y="61" width="1" height="1" fill="#0000ff"/>
<rect x="484" y="61" width="3" height="1" fill="#0000ff"/>
<rect x="491" y="76" width="1" height="17" fill="#0000ff"/>
<rect x="490" y="87" width="3" height="1" fill="#0000ff"/>
<rect x="497" y="71" width="1" height="17" fill="#ff0000"/>
<rect x="496" y="76" width="3" height="7" fill="#ff0000"/>
<rect x="503" y="71" width="1" height="12" fill="#0000ff"/>
<rect x="502" y="76" width="3" height="1" fill="#0000ff"/>
<rect x="509" y="76" width="1" height="1" fill="#0000ff"/>
<rect x="508" y="76" width="3" height="1" fill="#0000ff"/>
<rect x="515" y="66" width="1" height="11" fill="#ff0000"/>
<rect x="514" y="71" width="3" height="6" fill="#ff0000"/>
<rect x="521" y="71" width="1" height="6" fill="#0000ff"/>
<rect x="520" y="71" width="3" height="6" fill="#0000ff"/>
<rect x="527" y="61" width="1" height="16" fill="#ff0000"/>
<rect x="526" y="61" width="3" height="16" fill="#ff0000"/>
<rect x="533" y="61" width="1" height="32" fill="#0000ff"/>
<rect x="532" y="61" width="3" height="22" fill="#0000ff"/>
<rect x="539" y="66" width="1" height="27" fill="#ff0000"/>
<rect x="538" y="66" width="3" height="17" fill="#ff0000"/>
<rect x="545" y="50" width="1" height="33" fill="#ff0000"/>
<rect x="544" y="50" width="3" height="22" fill="#ff0000"/>
<rect x="551" y="19" width="1" height="37" fill="#ff0000"/>
<rect x="550" y="50" width="3" height="6" fill="#ff0000"/>
<rect x="557" y="40" width="1" height="16" fill="#0000ff"/>
<rect x="556" y="50" width="3" height="1" fill="#0000ff"/>
<rect x="563" y="45" width="1" height="17" fill="#0000ff"/>
<rect x="562" y="50" width="3" height="6" fill="#0000ff"/>
<rect x="569" y="45" width="1" height="11" fill="#ff0000"/>
<rect x="568" y="45" width="3" height="11" fill="#ff0000"/>
<rect x="575" y="40" width="1" height="11" fill="#ff0000"/>
<rect x="574" y="40" width="3" height="6" fill="#ff0000"/>
<rect x="581" y="29" width="1" height="17" fill="#ff0000"/>
<rect x="580" y="29" width="3" height="12" fill="#ff0000"/>
<rect x="587" y="29" width="1" height="12" fill="#0000ff"/>
<rect x="586" y="29" width="3" height="6" fill="#0000ff"/>
<rect x="593" y="34" width="1" height="12" fill="#0000ff"/>
<rect x="592" y="40" width="3" height="1" fill="#0000ff"/>
<rect x="599" y="34" width="1" height="7" fill="#ff0000"/>
<rect x="598" y="34" width="3" height="7" fill="#ff0000"/>
<rect x="605" y="34" width="1" height="12" fill="#0000ff"/>
<rect x="604" y="40" width="3" height="1" fill="#0000ff"/>
<rect x="611" y="34" width="1" height="7" fill="#0000ff"/>
<rect x="610" y="40" width="3" height="1" fill="#0000ff"/>
<rect x="617" y="34" width="1" height="7" fill="#ff0000"/>
<rect x="616" y="34" width="3" height="7" fill="#ff0000"/>
<rect x="623" y="29" width="1" height="12" fill="#0000ff"/>
<rect x="622" y="34" width="3" height="1" fill="#0000ff"/>
<rect x="629" y="29" width="1" height="6" fill="#0000ff"/>
<rect x="628" y="29" width="3" height="6" fill="#0000ff"/>
<rect x="635" y="29" width="1" height="6" fill="#ff0000"/>
<rect x="634" y="29" width="3" height="1" fill="#ff0000"/>
<rect x="641" y="29" width="1" height="6" fill="#0000ff"/>
<rect x="640" y="29" width="3" height="1" fill="#0000ff"/>
<rect x="647" y="24" width="1" height="11" fill="#ff0000"/>
<rect x="646" y="29" width="3" height="1" fill="#ff0000"/>
<rect x="653" y="29" width="1" height="6" fill="#0000ff"/>
<rect x="652" y="29" width="3" height="6" fill="#0000ff"/>
<rect x="659" y="29" width="1" height="6" fill="#ff0000"/>
<rect x="658" y="29" width="3" height="6" fill="#ff0000"/>
<rect x="665" y="24" width="1" height="11" fill="#0000ff"/>
<rect x="664" y="29" width="3" height="1" fill="#0000ff"/>
<rect x="671" y="29" width="1" height="6" fill="#0000ff"/>
<rect x="670" y="29" width="3" height="1" fill="#0000ff"/>
<rect x="677" y="29" width="1" height="6" fill="#0000ff"/>
<rect x="676" y="29" width="3" height="1" fill="#0000ff"/>
<rect x="683" y="29" width="1" height="12" fill="#0000ff"/>
<rect x="682" y="29" width="3" height="12" fill="#0000ff"/>
<rect x="689" y="34" width="1" height="7" fill="#0000ff"/>
<rect x="688" y="40" width="3" height="1" fill="#0000ff"/>
<rect x="695" y="34" width="1" height="7" fill="#0000ff"/>
<rect x="694" y="40" width="3" height="1" fill="#0000ff"/>
<rect x="701" y="34" width="1" height="12" fill="#0000ff"/>
<rect x="700" y="40" width="3" height="6" fill="#0000ff"/>
<rect x="707" y="34" width="1" height="12" fill="#ff0000"/>
<rect x="706" y="40" width="3" height="6" fill="#ff0000"/>
<rect x="713" y="34" width="1" height="7" fill="#0000ff"/>
<rect x="712" y="34" width="3" height="7" fill="#0000ff"/>
<rect x="719" y="34" width="1" height="7" fill="#0000ff"/>
<rect x="718" y="40" width="3" height="1" fill="#0000ff"/>
<rect x="725" y="40" width="1" height="6" fill="#0000ff"/>
<rect x="724" y="40" width="3" height="1" fill="#0000ff"/>
<rect x="731" y="34" width="1" height="12" fill="#0000ff"/>
<rect x="730" y="40" width="3" height="6" fill="#0000ff"/>
<rect x="737" y="40" width="1" height="6" fill="#0000ff"/>
<rect x="736" y="45" width="3" height="1" fill="#0000ff"/>
<rect x="743" y="40" width="1" height="6" fill="#0000ff"/>
<rect x="742" y="45" width="3" height="1" fill="#0000ff"/>
<rect x="749" y="40" width="1" height="11" fill="#0000ff"/>
<rect x="748" y="40" width="3" height="11" fill="#0000ff"/>
<rect x="755" y="45" width="1" height="6" fill="#0000ff"/>
<rect x="754" y="50" width="3" height="1" fill="#0000ff"/>
<rect x="761" y="45" width="1" height="6" fill="#0000ff"/>
<rect x="760" y="50" width="3" height="1" fill="#0000ff"/>
<rect x="767" y="45" width="1" height="6" fill="#0000ff"/>
<rect x="766" y="45" width="3" height="6" fill="#0000ff"/>
<rect x="773" y="45" width="1" height="6" fill="#0000ff"/>
<rect x="772" y="45" width="3" height="6" fill="#0000ff"/>
<rect x="779" y="40" width="1" height="11" fill="#ff0000"/>
<rect x="778" y="45" width="3" height="6" fill="#ff0000"/>
<rect x="785" y="40" width="1" height="6" fill="#0000ff"/>
<rect x="784" y="40" width="3" height="6" fill="#0000ff"/>
<rect x="791" y="45" width="1" height="11" fill="#0000ff"/>
<rect x="790" y="45" width="3" height="6" fill="#0000ff"/>
<rect x="797" y="45" width="1" height="11" fill="#0000ff"/>
<rect x="796" y="50" width="3" height="6" fill="#0000ff"/>
<rect x="803" y="45" width="1" height="11" fill="#ff0000"/>
<rect x="802" y="50" width="3" height="6" fill="#ff0000"/>
<rect x="809" y="50" width="1" height="6" fill="#0000ff"/>
<rect x="808" y="50" width="3" height="1" fill="#0000ff"/>
<rect x="815" y="50" width="1" height="6" fill="#0000ff"/>
<rect x="814" y="50" width="3" height="6" fill="#0000ff"/>
<rect x="821" y="45" width="1" height="11" fill="#ff0000"/>
<rect x="820" y="50" width="3" height="6" fill="#ff0000"/>
<rect x="827" y="45" width="1" height="11" fill="#0000ff"/>
<rect x="826" y="50" width="3" height="6" fill="#0000ff"/>
<rect x="833" y="50" width="1" height="6" fill="#0000ff"/>
<rect x="832" y="55" width="3" height="1" fill="#0000ff"/>
<rect x="839" y="50" width="1" height="6" fill="#ff0000"/>
<rect x="838" y="50" width="3" height="6" fill="#ff0000"/>
<rect x="845" y="40" width="1" height="11" fill="#ff0000"/>
<rect x="844" y="45" width="3" height="6" fill="#ff0000"/>
<rect x="851" y="40" width="1" height="11" fill="#ff0000"/>
<rect x="850" y="45" width="3" height="6" fill="#ff0000"/>
<rect x="857" y="40" width="1" height="11" fill="#0000ff"/>
<rect x="856" y="45" width="3" height="1" fill="#0000ff"/>
<rect x="863" y="45" width="1" height="6" fill="#0000ff"/>
<rect x="862" y="45" width="3" height="1" fill="#0000ff"/>
<rect x="869" y="40" width="1" height="6" fill="#0000ff"/>
<rect x="868" y="40" width="3" height="6" fill="#0000ff"/>
<rect x="875" y="40" width="1" height="11" fill="#ff0000"/>
<rect x="874" y="45" width="3" height="1" fill="#ff0000"/>
<rect x="881" y="40" width="1" height="11" fill="#ff0000"/>
<rect x="880" y="45" width="3" height="1" fill="#ff0000"/>
<rect x="887" y="40" width="1" height="11" fill="#0000ff"/>
<rect x="886" y="45" width="3" height="1" fill="#0000ff"/>
<rect x="893" y="34" width="1" height="17" fill="#0000ff"/>
<rect x="892" y="45" width="3" height="1" fill="#0000ff"/>
<rect x="899" y="40" width="1" height="6" fill="#ff0000"/>
<rect x="898" y="40" width="3" height="6" fill="#ff0000"/>
<rect x="905" y="40" width="1" height="6" fill="#ff0000"/>
<rect x="904" y="40" width="3" height="1" fill="#ff0000"/>
<rect x="911" y="34" width="1" height="12" fill="#0000ff"/>
<rect x="910" y="40" width="3" height="1" fill="#0000ff"/>
<rect x="917" y="40" width="1" height="6" fill="#0000ff"/>
<rect x="916" y="40" width="3" height="1" fill="#0000ff"/>
<rect x="923" y="34" width="1" height="7" fill="#0000ff"/>
<rect x="922" y="40" width="3" height="1" fill="#0000ff"/>
<rect x="929" y="34" width="1" height="7" fill="#ff0000"/>
<rect x="928" y="34" width="3" height="7" fill="#ff0000"/>
<rect x="935" y="34" width="1" height="7" fill="#0000ff"/>
<rect x="934" y="40" width="3" height="1" fill="#0000ff"/>
<rect x="941" y="34" width="1" height="12" fill="#0000ff"/>
<rect x="940" y="40" width="3" height="1" fill="#0000ff"/>
<rect x="947" y="34" width="1" height="12" fill="#0000ff"/>
<rect x="946" y="40" width="3" height="6" fill="#0000ff"/>
<rect x="953" y="40" width="1" height="6" fill="#0000ff"/>
<rect x="952" y="45" width="3" height="1" fill="#0000ff"/>
<rect x="959" y="40" width="1" height="11" fill="#0000ff"/>
<rect x="958" y="45" width="3" height="6" fill="#0000ff"/>
<rect x="965" y="45" width="1" height="6" fill="#ff0000"/>
<rect x="964" y="45" width="3" height="6" fill="#ff0000"/>
<rect x="971" y="40" width="1" height="6" fill="#ff0000"/>
<rect x="970" y="40" width="3" height="6" fill="#ff0000"/>
<rect x="977" y="40" width="1" height="11" fill="#0000ff"/>
<rect x="976" y="40" width="3" height="6" fill="#0000ff"/>
<rect x="983" y="40" width="1" height="6" fill="#0000ff"/>
<rect x="982" y="40" width="3" height="6" fill="#0000ff"/>
<rect x="989" y="45" width="1" height="11" fill="#0000ff"/>
<rect x="988" y="50" width="3" height="1" fill="#0000ff"/>
<rect x="995" y="45" width="1" height="17" fill="#0000ff"/>
<rect x="994" y="55" width="3" height="7" fill="#0000ff"/>
<rect x="1001" y="45" width="1" height="17" fill="#0000ff"/>
<rect x="1000" y="61" width="3" height="1" fill="#0000ff"/>
<rect x="1007" y="50" width="1" height="17" fill="#0000ff"/>
<rect x="1006" y="61" width="3" height="1" fill="#0000ff"/>
<rect x="1013" y="61" width="1" height="6" fill="#0000ff"/>
<rect x="1012" y="61" width="3" height="6" fill="#0000ff"/>
<rect x="1019" y="55" width="1" height="12" fill="#ff0000"/>
<rect x="1018" y="55" width="3" height="12" fill="#ff0000"/>
<rect x="1025" y="50" width="1" height="12" fill="#0000ff"/>
<rect x="1024" y="55" width="3" height="1" fill="#0000ff"/>
<rect x="1031" y="50" width="1" height="6" fill="#ff0000"/>
<rect x="1030" y="50" width="3" height="6" fill="#ff0000"/>
<rect x="1037" y="50" width="1" height="6" fill="#0000ff"/>
<rect x="1036" y="50" width="3" height="1" fill="#0000ff"/>
<rect x="1043" y="50" width="1" height="6" fill="#0000ff"/>
<rect x="1042" y="50" width="3" height="1" fill="#0000ff"/>
<rect x="1049" y="50" width="1" height="12" fill="#0000ff"/>
<rect x="1048" y="55" width="3" height="1" fill="#0000ff"/>
<rect x="1055" y="45" width="1" height="11" fill="#ff0000"/>
<rect x="1054" y="45" width="3" height="11" fill="#ff0000"/>
<rect x="1061" y="45" width="1" height="6" fill="#0000ff"/>
<rect x="1060" y="45" width="3" height="6" fill="#0000ff"/>
<rect x="1067" y="50" width="1" height="1" fill="#0000ff"/>
<rect x="1066" y="50" width="3" height="1" fill="#0000ff"/>
<rect x="1073" y="50" width="1" height="6" fill="#0000ff"/>
<rect x="1072" y="55" width="3" height="1" fill="#0000ff"/>
<rect x="1079" y="55" width="1" height="7" fill="#0000ff"/>
<rect x="1078" y="61" width="3" height="1" fill="#0000ff"/>
<rect x="1085" y="61" width="1" height="6" fill="#0000ff"/>
<rect x="1084" y="61" width="3" height="1" fill="#0000ff"/>
<rect x="1091" y="55" width="1" height="12" fill="#0000ff"/>
<rect x="1090" y="55" width="3" height="7" fill="#0000ff"/>
<rect x="1097" y="61" width="1" height="6" fill="#0000ff"/>
<rect x="1096" y="61" width="3" height="1" fill="#0000ff"/>
<rect x="1103" y="55" width="1" height="7" fill="#0000ff"/>
<rect x="1102" y="61" width="3" height="1" fill="#0000ff"/>
<rect x="1109" y="61" width="1" height="6" fill="#0000ff"/>
<rect x="1108" y="61" width="3" height="6" fill="#0000ff"/>
<rect x="1115" y="61" width="1" height="6" fill="#0000ff"/>
<rect x="1114" y="66" width="3" height="1" fill="#0000ff"/>
<rect x="10" y="316" width="3" height="1" fill="#008000"/>
<rect x="16" y="316" width="3" height="1" fill="#008000"/>
<rect x="22" y="316" width="3" height="1" fill="#008000"/>
<rect x="28" y="315" width="3" height="2" fill="#008000"/>
<rect x="34" y="296" width="3" height="21" fill="#008000"/>
<rect x="40" y="289" width="3" height="28" fill="#008000"/>
<rect x="46" y="299" width="3" height="18" fill="#008000"/>
<rect x="52" y="314" width="3" height="3" fill="#008000"/>
<rect x="58" y="299" width="3" height="18" fill="#008000"/>
<rect x="64" y="315" width="3" height="2" fill="#008000"/>
<rect x="70" y="310" width="3" height="7" fill="#008000"/>
<rect x="76" y="289" width="3" height="28" fill="#008000"/>
<rect x="82" y="302" width="3" height="15" fill="#008000"/>
<rect x="88" y="250" width="3" height="67" fill="#008000"/>
<rect x="94" y="293" width="3" height="24" fill="#008000"/>
<rect x="100" y="309" width="3" height="8" fill="#008000"/>
<rect x="106" y="308" width="3" height="9" fill="#008000"/>
<rect x="112" y="297" width="3" height="20" fill="#008000"/>
<rect x="118" y="309" width="3" height="8" fill="#008000"/>
<rect x="124" y="287" width="3" height="30" fill="#008000"/>
<rect x="130" y="314" width="3" height="3" fill="#008000"/>
<rect x="136" y="312" width="3" height="5" fill="#008000"/>
<rect x="142" y="306" width="3" height="11" fill="#008000"/>
<rect x="148" y="303" width="3" height="14" fill="#008000"/>
<rect x="154" y="312" width="3" height="5" fill="#008000"/>
<rect x="160" y="311" width="3" height="6" fill="#008000"/>
<rect x="166" y="310" width="3" height="7" fill="#008000"/>
<rect x="172" y="312" width="3" height="5" fill="#008000"/>
<rect x="178" y="312" width="3" height="5" fill="#008000"/>
<rect x="184" y="303" width="3" height="14" fill="#008000"/>
<rect x="190" y="312" width="3" height="5" fill="#008000"/>
<rect x="196" y="311" width="3" height="6" fill="#008000"/>
<rect x="202" y="314" width="3" height="3" fill="#008000"/>
<rect x="208" y="311" width="3" height="6" fill="#008000"/>
<rect x="214" y="315" width="3" height="2" fill="#008000"/>
<rect x="220" y="315" width="3" height="2" fill="#008000"/>
<rect x="226" y="315" width="3" height="2" fill="#008000"/>
<rect x="232" y="315" width="3" height="2" fill="#008000"/>
<rect x="238" y="314" width="3" height="3" fill="#008000"/>
<rect x="244" y="315" width="3" height="2" fill="#008000"/>
<rect x="250" y="315" width="3" height="2" fill="#008000"/>
<rect x="256" y="315" width="3" height="2" fill="#008000"/>
<rect x="262" y="315" width="3" height="2" fill="#008000"/>
<rect x="268" y="314" width="3" height="3" fill="#008000"/>
<rect x="274" y="315" width="3" height="2" fill="#008000"/>
<rect x="280" y="314" width="3" height="3" fill="#008000"/>
<rect x="286" y="281" width="3" height="36" fill="#008000"/>
<rect x="292" y="304" width="3" height="13" fill="#008000"/>
<rect x="298" y="312" width="3" height="5" fill="#008000"/>
<rect x="304" y="315" width="3" height="2" fill="#008000"/>
<rect x="310" y="307" width="3" height="10" fill="#008000"/>
<rect x="316" y="310" width="3" height="7" fill="#008000"/>
<rect x="322" y="315" width="3" height="2" fill="#008000"/>
<rect x="328" y="313" width="3" height="4" fill="#008000"/>
<rect x="334" y="311" width="3" height="6" fill="#008000"/>
<rect x="340" y="315" width="3" height="2" fill="#008000"/>
<rect x="346" y="316" width="3" height="1" fill="#008000"/>
<rect x="352" y="312" width="3" height="5" fill="#008000"/>
<rect x="358" y="315" width="3" height="2" fill="#008000"/>
<rect x="364" y="311" width="3" height="6" fill="#008000"/>
<rect x="370" y="312" width="3" height="5" fill="#008000"/>
<rect x="376" y="312" width="3" height="5" fill="#008000"/>
<rect x="382" y="302" width="3" height="15" fill="#008000"/>
<rect x="388" y="314" width="3" height="3" fill="#008000"/>
<rect x="394" y="311" width="3" height="6" fill="#008000"/>
<rect x="400" y="311" width="3" height="6" fill="#008000"/>
<rect x="406" y="306" width="3" height="11" fill="#008000"/>
<rect x="412" y="314" width="3" height="3" fill="#008000"/>
<rect x="418" y="310" width="3" height="7" fill="#008000"/>
<rect x="424" y="314" width="3" height="3" fill="#008000"/>
<rect x="430" y="309" width="3" height="8" fill="#008000"/>
<rect x="436" y="310" width="3" height="7" fill="#008000"/>
<rect x="442" y="315" width="3" height="2" fill="#008000"/>
<rect x="448" y="315" width="3" height="2" fill="#008000"/>
<rect x="454" y="309" width="3" height="8" fill="#008000"/>
<rect x="460" y="304" width="3" height="13" fill="#008000"/>
<rect x="466" y="285" width="3" height="32" fill="#008000"/>
<rect x="472" y="307" width="3" height="10" fill="#008000"/>
<rect x="484" y="307" width="3" height="10" fill="#008000"/>
<rect x="490" y="304" width="3" height="13" fill="#008000"/>
<rect x="496" y="308" width="3" height="9" fill="#008000"/>
<rect x="502" y="314" width="3" height="3" fill="#008000"/>
<rect x="508" y="316" width="3" height="1" fill="#008000"/>
<rect x="514" y="308" width="3" height="9" fill="#008000"/>
<rect x="520" y="315" width="3" height="2" fill="#008000"/>
<rect x="526" y="312" width="3" height="5" fill="#008000"/>
<rect x="532" y="300" width="3" height="17" fill="#008000"/>
<rect x="538" y="303" width="3" height="14" fill="#008000"/>
<rect x="544" y="306" width="3" height="11" fill="#008000"/>
<rect x="550" y="301" width="3" height="16" fill="#008000"/>
<rect x="556" y="310" width="3" height="7" fill="#008000"/>
<rect x="562" y="314" width="3" height="3" fill="#008000"/>
<rect x="568" y="312" width="3" height="5" fill="#008000"/>
<rect x="574" y="314" width="3" height="3" fill="#008000"/>
<rect x="580" y="312" width="3" height="5" fill="#008000"/>
<rect x="586" y="313" width="3" height="4" fill="#008000"/>
<rect x="592" y="312" width="3" height="5" fill="#008000"/>
<rect x="598" y="314" width="3" height="3" fill="#008000"/>
<rect x="604" y="314" width="3" height="3" fill="#008000"/>
<rect x="610" y="316" width="3" height="1" fill="#008000"/>
<rect x="616" y="316" width="3" height="1" fill="#008000"/>
<rect x="622" y="315" width="3" height="2" fill="#008000"/>
<rect x="628" y="313" width="3" height="4" fill="#008000"/>
<rect x="646" y="315" width="3" height="2" fill="#008000"/>
<rect x="652" y="316" width="3" height="1" fill="#008000"/>
<rect x="664" y="314" width="3" height="3" fill="#008000"/>
<rect x="670" y="316" width="3" height="1" fill="#008000"/>
<rect x="682" y="315" width="3" height="2" fill="#008000"/>
<rect x="688" y="316" width="3" height="1" fill="#008000"/>
<rect x="694" y="316" width="3" height="1" fill="#008000"/>
<rect x="700" y="316" width="3" height="1" fill="#008000"/>
<rect x="706" y="316" width="3" height="1" fill="#008000"/>
<rect x="718" y="315" width="3" height="2" fill="#008000"/>
<rect x="724" y="316" width="3" height="1" fill="#008000"/>
<rect x="742" y="316" width="3" height="1" fill="#008000"/>
<rect x="748" y="315" width="3" height="2" fill="#008000"/>
<rect x="754" y="316" width="3" height="1" fill="#008000"/>
<rect x="778" y="316" width="3" height="1" fill="#008000"/>
<rect x="784" y="316" width="3" height="1" fill="#008000"/>
<rect x="790" y="315" width="3" height="2" fill="#008000"/>
<rect x="796" y="316" width="3" height="1" fill="#008000"/>
<rect x="808" y="315" width="3" height="2" fill="#008000"/>
<rect x="814" y="316" width="3" height="1" fill="#008000"/>
<rect x="820" y="314" width="3" height="3" fill="#008000"/>
<rect x="826" y="313" width="3" height="4" fill="#008000"/>
<rect x="838" y="314" width="3" height="3" fill="#008000"/>
<rect x="844" y="316" width="3" height="1" fill="#008000"/>
<rect x="850" y="316" width="3" height="1" fill="#008000"/>
<rect x="856" y="316" width="3" height="1" fill="#008000"/>
<rect x="862" y="316" width="3" height="1" fill="#008000"/>
<rect x="874" y="316" width="3" height="1" fill="#008000"/>
<rect x="880" y="316" width="3" height="1" fill="#008000"/>
<rect x="886" y="316" width="3" height="1" fill="#008000"/>
<rect x="892" y="315" width="3" height="2" fill="#008000"/>
<rect x="898" y="316" width="3" height="1" fill="#008000"/>
<rect x="904" y="316" width="3" height="1" fill="#008000"/>
<rect x="910" y="316" width="3" height="1" fill="#008000"/>
<rect x="922" y="314" width="3" height="3" fill="#008000"/>
<rect x="928" y="316" width="3" height="1" fill="#008000"/>
<rect x="934" y="315" width="3" height="2" fill="#008000"/>
<rect x="940" y="313" width="3" height="4" fill="#008000"/>
<rect x="946" y="315" width="3" height="2" fill="#008000"/>
<rect x="958" y="314" width="3" height="3" fill="#008000"/>
<rect x="964" y="316" width="3" height="1" fill="#008000"/>
<rect x="976" y="315" width="3" height="2" fill="#008000"/>
<rect x="982" y="316" width="3" height="1" fill="#008000"/>
<rect x="988" y="316" width="3" height="1" fill="#008000"/>
<rect x="994" y="315" width="3" height="2" fill="#008000"/>
<rect x="1000" y="316" width="3" height="1" fill="#008000"/>
<rect x="1006" y="315" width="3" height="2" fill="#008000"/>
<rect x="1012" y="316" width="3" height="1" fill="#008000"/>
<rect x="1018" y="316" width="3" height="1" fill="#008000"/>
<rect x="1024" y="316" width="3" height="1" fill="#008000"/>
<rect x="1030" y="316" width="3" height="1" fill="#008000"/>
<rect x="1036" y="316" width="3" height="1" fill="#008000"/>
<rect x="1042" y="316" width="3" height="1" fill="#008000"/>
<rect x="1048" y="316" width="3" height="1" fill="#008000"/>
<rect x="1054" y="316" width="3" height="1" fill="#008000"/>
<rect x="1060" y="316" width="3" height="1" fill="#008000"/>
<rect x="1066" y="316" width="3" height="1" fill="#008000"/>
<rect x="1072" y="316" width="3" height="1" fill="#008000"/>
<rect x="1078" y="316" width="3" height="1" fill="#008000"/>
<rect x="1084" y="316" width="3" height="1" fill="#008000"/>
<rect x="1090" y="316" width="3" height="1" fill="#008000"/>
<rect x="1102" y="316" width="3" height="1" fill="#008000"/>
<rect x="5" y="317" width="1118" height="1" fill="#000"/>
<rect x="5" y="403" width="1118" height="1" fill="#808080"/>
<rect x="5" y="403" width="1" height="1" fill="#ff0000"/>
<rect x="11" y="403" width="1" height="1" fill="#ff0000"/>
<rect x="17" y="403" width="1" height="1" fill="#ff0000"/>
<rect x="23" y="403" width="1" height="1" fill="#ff0000"/>
<rect x="29" y="403" width="1" height="1" fill="#ff0000"/>
<rect x="35" y="403" width="1" height="1" fill="#ff0000"/>
<rect x="41" y="403" width="1" height="1" fill="#ff0000"/>
<rect x="47" y="403" width="1" height="1" fill="#ff0000"/>
<rect x="53" y="403" width="1" height="1" fill="#ff0000"/>
<rect x="59" y="402" width="1" height="2" fill="#ff0000"/>
<rect x="65" y="401" width="1" height="3" fill="#ff0000"/>
<rect x="71" y="399" width="1" height="5" fill="#ff0000"/>
<rect x="77" y="397" width="1" height="7" fill="#ff0000"/>
<rect x="83" y="394" width="1" height="10" fill="#ff0000"/>
<rect x="89" y="390" width="1" height="14" fill="#ff0000"/>
<rect x="95" y="387" width="1" height="17" fill="#ff0000"/>
<rect x="101" y="387" width="1" height="17" fill="#ff0000"/>
<rect x="107" y="387" width="1" height="17" fill="#ff0000"/>
<rect x="113" y="385" width="1" height="19" fill="#ff0000"/>
<rect x="119" y="386" width="1" height="18" fill="#ff0000"/>
<rect x="125" y="388" width="1" height="16" fill="#ff0000"/>
<rect x="131" y="390" width="1" height="14" fill="#ff0000"/>
<rect x="137" y="394" width="1" height="10" fill="#ff0000"/>
<rect x="143" y="397" width="1" height="7" fill="#ff0000"/>
<rect x="149" y="399" width="1" height="5" fill="#ff0000"/>
<rect x="155" y="403" width="1" height="1" fill="#ff0000"/>
<rect x="161" y="403" width="1" height="1" fill="#ff0000"/>
<rect x="167" y="403" width="1" height="1" fill="#ff0000"/>
<rect x="173" y="403" width="1" height="3" fill="#ff0000"/>
<rect x="179" y="403" width="1" height="4" fill="#ff0000"/>
<rect x="185" y="403" width="1" height="5" fill="#ff0000"/>
<rect x="191" y="403" width="1" height="5" fill="#ff0000"/>
<rect x="197" y="403" width="1" height="5" fill="#ff0000"/>
<rect x="203" y="403" width="1" height="4" fill="#ff0000"/>
<rect x="209" y="403" width="1" height="4" fill="#ff0000"/>
<rect x="215" y="403" width="1" height="4" fill="#ff0000"/>
<rect x="221" y="403" width="1" height="4" fill="#ff0000"/>
<rect x="227" y="403" width="1" height="4" fill="#ff0000"/>
<rect x="233" y="403" width="1" height="4" fill="#ff0000"/>
<rect x="239" y="403" width="1" height="4" fill="#ff0000"/>
<rect x="245" y="403" width="1" height="4" fill="#ff0000"/>
<rect x="251" y="403" width="1" height="5" fill="#ff0000"/>
<rect x="257" y="403" width="1" height="4" fill="#ff0000"/>
<rect x="263" y="403" width="1" height="6" fill="#ff0000"/>
<rect x="269" y="403" width="1" height="7" fill="#ff0000"/>
<rect x="275" y="403" width="1" height="8" fill="#ff0000"/>
<rect x="281" y="403" width="1" height="9" fill="#ff0000"/>
<rect x="287" y="403" width="1" height="9" fill="#ff0000"/>
<rect x="293" y="403" width="1" height="9" fill="#ff0000"/>
<rect x="299" y="403" width="1" height="9" fill="#ff0000"/>
<rect x="305" y="403" width="1" height="9" fill="#ff0000"/>
<rect x="311" y="403" width="1" height="11" fill="#ff0000"/>
<rect x="317" y="403" width="1" height="12" fill="#ff0000"/>
<rect x="323" y="403" width="1" height="12" fill="#ff0000"/>
<rect x="329" y="403" width="1" height="12" fill="#ff0000"/>
<rect x="335" y="403" width="1" height="8" fill="#ff0000"/>
<rect x="341" y="403" width="1" height="6" fill="#ff0000"/>
<rect x="347" y="403" width="1" height="4" fill="#ff0000"/>
<rect x="353" y="403" width="1" height="3" fill="#ff0000"/>
<rect x="359" y="402" width="1" height="2" fill="#ff0000"/>
<rect x="365" y="401" width="1" height="3" fill="#ff0000"/>
<rect x="371" y="400" width="1" height="4" fill="#ff0000"/>
<rect x="377" y="399" width="1" height="5" fill="#ff0000"/>
<rect x="383" y="399" width="1" height="5" fill="#ff0000"/>
<rect x="389" y="398" width="1" height="6" fill="#ff0000"/>
<rect x="395" y="398" width="1" height="6" fill="#ff0000"/>
<rect x="401" y="398" width="1" height="6" fill="#ff0000"/>
<rect x="407" y="399" width="1" height="5" fill="#ff0000"/>
<rect x="413" y="399" width="1" height="5" fill="#ff0000"/>
<rect x="419" y="400" width="1" height="4" fill="#ff0000"/>
<rect x="425" y="400" width="1" height="4" fill="#ff0000"/>
<rect x="431" y="400" width="1" height="4" fill="#ff0000"/>
<rect x="437" y="401" width="1" height="3" fill="#ff0000"/>
<rect x="443" y="402" width="1" height="2" fill="#ff0000"/>
<rect x="449" y="403" width="1" height="1" fill="#ff0000"/>
<rect x="455" y="403" width="1" height="3" fill="#ff0000"/>
<rect x="461" y="403" width="1" height="3" fill="#ff0000"/>
<rect x="467" y="403" width="1" height="2" fill="#ff0000"/>
<rect x="473" y="402" width="1" height="2" fill="#ff0000"/>
<rect x="479" y="401" width="1" height="3" fill="#ff0000"/>
<rect x="485" y="402" width="1" height="2" fill="#ff0000"/>
<rect x="491" y="403" width="1" height="2" fill="#ff0000"/>
<rect x="497" y="403" width="1" height="3" fill="#ff0000"/>
<rect x="503" y="403" width="1" height="4" fill="#ff0000"/>
<rect x="509" y="403" width="1" height="5" fill="#ff0000"/>
<rect x="515" y="403" width="1" height="4" fill="#ff0000"/>
<rect x="521" y="403" width="1" height="3" fill="#ff0000"/>
<rect x="527" y="403" width="1" height="3" fill="#ff0000"/>
<rect x="533" y="403" width="1" height="3" fill="#ff0000"/>
<rect x="539" y="403" width="1" height="3" fill="#ff0000"/>
<rect x="545" y="403" width="1" height="1" fill="#ff0000"/>
<rect x="551" y="401" width="1" height="3" fill="#ff0000"/>
<rect x="557" y="400" width="1" height="4" fill="#ff0000"/>
<rect x="563" y="400" width="1" height="4" fill="#ff0000"/>
<rect x="569" y="399" width="1" height="5" fill="#ff0000"/>
<rect x="575" y="398" width="1" height="6" fill="#ff0000"/>
<rect x="581" y="397" width="1" height="7" fill="#ff0000"/>
<rect x="587" y="397" width="1" height="7" fill="#ff0000"/>
<rect x="593" y="398" width="1" height="6" fill="#ff0000"/>
<rect x="599" y="398" width="1" height="6" fill="#ff0000"/>
<rect x="605" y="400" width="1" height="4" fill="#ff0000"/>
<rect x="611" y="402" width="1" height="2" fill="#ff0000"/>
<rect x="617" y="402" width="1" height="2" fill="#ff0000"/>
<rect x="623" y="403" width="1" height="1" fill="#ff0000"/>
<rect x="629" y="403" width="1" height="1" fill="#ff0000"/>
<rect x="635" y="403" width="1" height="1" fill="#ff0000"/>
<rect x="641" y="403" width="1" height="1" fill="#ff0000"/>
<rect x="647" y="403" width="1" height="1" fill="#ff0000"/>
<rect x="653" y="403" width="1" height="1" fill="#ff0000"/>
<rect x="659" y="403" width="1" height="2" fill="#ff0000"/>
<rect x="665" y="403" width="1" height="2" fill="#ff0000"/>
<rect x="671" y="403" width="1" height="2" fill="#ff0000"/>
<rect x="677" y="403" width="1" height="3" fill="#ff0000"/>
<rect x="683" y="403" width="1" height="4" fill="#ff0000"/>
<rect x="689" y="403" width="1" height="5" fill="#ff0000"/>
<rect x="695" y="403" width="1" height="5" fill="#ff0000"/>
<rect x="701" y="403" width="1" height="6" fill="#ff0000"/>
<rect x="707" y="403" width="1" height="6" fill="#ff0000"/>
<rect x="713" y="403" width="1" height="6" fill="#ff0000"/>
<rect x="719" y="403" width="1" height="6" fill="#ff0000"/>
<rect x="725" y="403" width="1" height="6" fill="#ff0000"/>
<rect x="731" y="403" width="1" height="6" fill="#ff0000"/>
<rect x="737" y="403" width="1" height="6" fill="#ff0000"/>
<rect x="743" y="403" width="1" height="6" fill="#ff0000"/>
<rect x="749" y="403" width="1" height="6" fill="#ff0000"/>
<rect x="755" y="403" width="1" height="7" fill="#ff0000"/>
<rect x="761" y="403" width="1" height="6" fill="#ff0000"/>
<rect x="767" y="403" width="1" height="5" fill="#ff0000"/>
<rect x="773" y="403" width="1" height="4" fill="#ff0000"/>
<rect x="779" y="403" width="1" height="4" fill="#ff0000"/>
<rect x="785" y="403" width="1" height="3" fill="#ff0000"/>
<rect x="791" y="403" width="1" height="3" fill="#ff0000"/>
<rect x="797" y="403" width="1" height="3" fill="#ff0000"/>
<rect x="803" y="403" width="1" height="3" fill="#ff0000"/>
<rect x="809" y="403" width="1" height="2" fill="#ff0000"/>
<rect x="815" y="403" width="1" height="2" fill="#ff0000"/>
<rect x="821" y="403" width="1" height="2" fill="#ff0000"/>
<rect x="827" y="403" width="1" height="2" fill="#ff0000"/>
<rect x="833" y="403" width="1" height="2" fill="#ff0000"/>
<rect x="839" y="403" width="1" height="1" fill="#ff0000"/>
<rect x="845" y="403" width="1" height="1" fill="#ff0000"/>
<rect x="851" y="403" width="1" height="1" fill="#ff0000"/>
<rect x="857" y="403" width="1" height="1" fill="#ff0000"/>
<rect x="863" y="403" width="1" height="1" fill="#ff0000"/>
<rect x="869" y="402" width="1" height="2" fill="#ff0000"/>
<rect x="875" y="402" width="1" height="2" fill="#ff0000"/>
<rect x="881" y="402" width="1" height="2" fill="#ff0000"/>
<rect x="887" y="402" width="1" height="2" fill="#ff0000"/>
<rect x="893" y="402" width="1" height="2" fill="#ff0000"/>
<rect x="899" y="401" width="1" height="3" fill="#ff0000"/>
<rect x="905" y="401" width="1" height="3" fill="#ff0000"/>
<rect x="911" y="401" width="1" height="3" fill="#ff0000"/>
<rect x="917" y="401" width="1" height="3" fill="#ff0000"/>
<rect x="923" y="401" width="1" height="3" fill="#ff0000"/>
<rect x="929" y="402" width="1" height="2" fill="#ff0000"/>
<rect x="935" y="402" width="1" height="2" fill="#ff0000"/>
<rect x="941" y="402" width="1" height="2" fill="#ff0000"/>
<rect x="947" y="403" width="1" height="1" fill="#ff0000"/>
<rect x="953" y="403" width="1" height="2" fill="#ff0000"/>
<rect x="959" y="403" width="1" height="2" fill="#ff0000"/>
<rect x="965" y="403" width="1" height="2" fill="#ff0000"/>
<rect x="971" y="403" width="1" height="2" fill="#ff0000"/>
<rect x="977" y="403" width="1" height="2" fill="#ff0000"/>
<rect x="983" y="403" width="1" height="1" fill="#ff0000"/>
<rect x="989" y="403" width="1" height="2" fill="#ff0000"/>
<rect x="995" y="403" width="1" height="3" fill="#ff0000"/>
<rect x="1001" y="403" width="1" height="4" fill="#ff0000"/>
<rect x="1007" y="403" width="1" height="5" fill="#ff0000"/>
<rect x="1013" y="403" width="1" height="6" fill="#ff0000"/>
<rect x="1019" y="403" width="1" height="5" fill="#ff0000"/>
<rect x="1025" y="403" width="1" height="4" fill="#ff0000"/>
<rect x="1031" y="403" width="1" height="2" fill="#ff0000"/>
<rect x="1037" y="402" width="1" height="2" fill="#ff0000"/>
<rect x="1043" y="402" width="1" height="2" fill="#ff0000"/>
<rect x="1049" y="401" width="1" height="3" fill="#ff0000"/>
<rect x="1055" y="401" width="1" height="3" fill="#ff0000"/>
<rect x="1061" y="402" width="1" height="2" fill="#ff0000"/>
<rect x="1067" y="402" width="1" height="2" fill="#ff0000"/>
<rect x="1073" y="402" width="1" height="2" fill="#ff0000"/>
<rect x="1079" y="403" width="1" height="1" fill="#ff0000"/>
<rect x="1085" y="403" width="1" height="2" fill="#ff0000"/>
<rect x="1091" y="403" width="1" height="2" fill="#ff0000"/>
<rect x="1097" y="403" width="1" height="3" fill="#ff0000"/>
<rect x="1103" y="403" width="1" height="3" fill="#ff0000"/>
<rect x="1109" y="403" width="1" height="3" fill="#ff0000"/>
<rect x="1115" y="403" width="1" height="3" fill="#ff0000"/>
<rect x="1121" y="403" width="1" height="3" fill="#ff0000"/>
<polyline points="6.4,402.6 35.5,401.7 59.1,397.6 73.7,393.8 82.5,386.5 94.2,371.3 103,365.4 117.5,352.8 129.3,349.3 138.1,349.9 152.8,353.7 164.5,356.6 182.1,363 193.8,366 223,369.5 249.5,373.3 264,377.7 281.5,387 293.3,390 305,395.3 315.3,403.5 322.5,407.9 329.9,409.3 340.2,407 351.9,404.6 366.5,401.1 381.2,396.2 398.1,390.2 415.5,388.7 433.2,387.2 444.9,389.3 456.5,393 465.5,392.2 477.1,387.8 485.9,387.8 497.5,393 509.3,396.6 521.1,396.6 532.8,398 540.1,398 550.3,393 567.9,388.7 582.5,382.8 600.1,381.4 611.8,383.4 632.3,383.4 649.9,383.4 661.5,384.9 676.3,386.4 690.9,391.6 705.5,395.7 731.9,400.4 758.2,406 779,406.7 800.5,407.7 822,409.2 840.5,408.6 862,406.7 883.5,404.6 898.9,402.1 914.3,400 932.7,399 945,399.4 963.5,402.4 981.9,401.8 994.2,404.6 1006.5,409.2 1015.5,412.3 1025,411.7 1037.3,408.6 1055.5,407 1071.1,406.7 1086.5,408.6 1101.5,410.1 1120.5,411.33" fill="none" stroke="#ffff00" stroke-width="1"/>
<polyline points="6.4,402.9 38.5,402 59.1,399.7 76.5,396.2 88.3,390.9 103,380.6 117.5,368.9 129.3,362.5 146.9,357.2 158.5,355.7 170.3,356.3 205.5,362.2 234.8,367.5 261.1,371.9 278.5,377.7 302.1,385 322.5,394.4 334.3,399.7 346,402.6 357.5,403.5 372.5,402.6 387,399 398.1,395.7 415.5,392.2 433.2,390.2 447.8,390.2 456.5,391.3 468.3,390.7 485.9,388.7 503.5,391.6 521.1,394.6 538.5,396.6 550.3,395.1 567.9,392.2 585.5,388.7 603,385.5 620.5,384 638.2,383.1 649.9,383.1 661.5,384 676.3,384.9 690.9,387.8 711.4,391.6 731.9,395.7 758.2,400.4 779,404 800.5,406.1 822,408.3 840.5,408.3 862,407 883.5,405.5 898.9,403.7 914.3,402.1 932.7,400.3 951.1,400 963.5,400.9 981.9,401.5 994.2,403 1006.5,405.5 1018.8,407.7 1031.1,409.2 1049.5,409.2 1068,407.7 1086.5,407.7 1101.5,408.3 1120.5,409.73" fill="none" stroke="#0000ff" stroke-width="1"/>
<rect x="5" y="460" width="1118" height="1" fill="#0000ff"/>
<rect x="5" y="499" width="1118" height="1" fill="#ff0000"/>
<polyline points="4.9,483.6 13.7,487.4 23.9,480.6 32.7,479.2 41.5,476.2 50.3,466 57.5,462.2 67.8,461.6 76.5,458 88.3,454.3 97.1,457.2 105.9,458.7 117.5,455.2 129.3,454.3 138.1,455.7 149.8,457.2 158.5,459.3 167.5,458.7 173.3,463 182.1,470.4 190.8,471.9 199.5,467.5 206.9,463 217.2,461 231.8,460 243.5,455.7 252.3,452.8 259.5,452.2 267,460 275.8,474.8 283.1,485 288.9,488 296.3,485.9 305,488 313.8,498.2 322.5,506.4 329.9,509.3 337.2,501.1 344.5,490.9 351.9,483.6 360.7,474.8 369.5,464.5 378.2,460 392.2,455.2 403.9,453.2 412.7,456.1 421.5,461.1 433.2,462 443.5,466.4 450.8,472.2 458.1,481.6 464,483.9 468.3,483.9 477.1,469.3 484.5,464.9 493.2,473.7 503.5,486.3 512.3,486.3 522.5,485.4 529.8,481 540.1,481 550.3,474.6 557.7,469.3 565,472.8 575.2,473.1 585.5,466.4 594.3,462.8 608.9,464 623.5,464 632.3,464.9 641.1,459 648.5,455.2 654.3,457.6 664.5,464 677.7,464 685,469.3 693.8,488.3 701.1,501.5 707,505 717.2,501.5 726,498.6 734.8,501.5 746.5,509.7 759.7,511.7 774.3,511.7 780.5,509.2 789.7,499.3 798.9,500 809.7,501.5 822,501.5 831.2,504.6 838.9,505.5 845.1,496.9 852.8,483 862,474.4 871.2,471.4 883.5,469.8 895.8,472.3 905,470.1 917.3,465.5 929.5,463.7 941.9,462.4 949.5,470.8 958.8,486.1 968.1,493.8 975.8,490.7 983.5,486.1 992.7,490.7 1000.4,499.3 1008,504.6 1014.2,507.7 1025,501.5 1032.5,492.3 1043.4,480.6 1055.7,476.3 1061.9,475.4 1069.5,469.2 1077.2,473.8 1084.9,481.5 1092.5,489.2 1104.9,495.4 1112.5,501.5 1120.9,505.5" fill="none" stroke="#ff0000" stroke-width="1"/>
<polyline points="4.9,488 12.2,488.8 18.1,479.2 23.9,474.8 29.8,482.1 35.5,478.6 41.5,468.9 48.8,463 54.7,461.6 63.5,462.5 72.2,458.7 84,454.3 94.2,456.6 103,459.5 111.8,455.2 119.1,453.4 129.3,454.3 138.1,457.2 146.9,457.2 155.7,459.5 161.5,456.3 168.9,460.7 174.7,470.4 183.5,471.9 190.8,471 199.5,463 204,456.6 209.9,463 220.1,459.5 234.8,459.5 245,450.8 251.7,455.7 258.2,451.4 264,463 275.8,485 282.2,492.3 287.5,486.5 293.3,483.6 299.2,486.5 310.9,501.1 318.2,507.9 324.1,510.5 329.9,508.5 335.8,493.8 341.5,485 349,482.1 356.3,476.2 366.5,463 372.5,459.5 376.8,461.6 384.9,454 396.5,453.8 401.5,451.1 409.8,458.2 418.5,462 424.5,463.4 431.7,459.6 437.5,466.4 449.3,475.1 456,494.2 464,482.5 474.2,467.8 480.5,461 486.5,466.4 491.8,483.9 497.5,486.3 509.3,488.3 515.2,484.5 522.5,486.3 527.8,475.1 534.2,485.4 540.1,483.3 545.9,465.8 554.7,471.6 565,476.6 575.2,470.7 582.5,462.8 588.5,462 597.2,463.4 611.8,464.9 619.2,462.8 626.5,464.9 630.3,468.4 635.3,459 642.5,453.2 648.5,455.2 654.3,464 677.7,464 682.1,472.2 689.5,494.2 695.3,503 702,507.9 708.5,502 717.2,498.6 725.5,497.1 731.9,503.8 739.2,508.8 755.3,511.7 774.3,511.7 780.5,503 786.5,496.3 792.8,496.9 798,504 803.5,500 809.7,498.4 815.9,505.2 822,498.4 828.2,505.2 834.3,509.2 839.8,500 846.5,483 852.8,476.3 858.9,472.9 868.1,470.8 877.4,470.1 888.1,469.8 894.3,475.4 900.5,469.8 909.5,465.5 917.3,464.6 923.5,467.7 929.5,457.8 935.8,463 941.9,467 948.1,478.4 954.2,486.1 960.5,498.4 966.5,494.7 972.7,482.4 978.8,486.1 989.5,492.3 997.3,503 1001.9,507 1006.5,504.6 1014.2,508.3 1020.3,500 1026.5,495.4 1032.5,484 1038.8,479 1043.4,476.3 1049.5,480.6 1055.7,470.8 1061.9,472.3 1068,468.6 1074.2,474.4 1080.3,485.5 1086.5,491.7 1094.1,493.8 1103.4,496.3 1109.5,504.6 1115.7,508.3 1120.9,503.7" fill="none" stroke="#0000ff" stroke-width="1"/>
<rect x="4" y="1" width="1" height="529" fill="#000"/>
<rect x="1123" y="1" width="1" height="554" fill="#000"/>
<rect x="4" y="529" width="1173" height="1" fill="#000"/>
<rect x="1124" y="19" width="5" height="1" fill="#000"/>
<rect x="1124" y="61" width="5" height="1" fill="#000"/>
<rect x="1124" y="103" width="5" height="1" fill="#000"/>
<rect x="1124" y="140" width="5" height="1" fill="#000"/>
<rect x="1124" y="182" width="5" height="1" fill="#000"/>
<rect x="1124" y="250" width="5" height="1" fill="#000"/>
<rect x="1124" y="287" width="5" height="1" fill="#000"/>
<rect x="1124" y="349" width="5" height="1" fill="#000"/>
<rect x="1124" y="387" width="5" height="1" fill="#000"/>
<rect x="1124" y="448" width="5" height="1" fill="#000"/>
<rect x="1124" y="486" width="5" height="1" fill="#000"/>
<rect x="11" y="530" width="1" height="4" fill="#000"/>
<rect x="59" y="530" width="1" height="4" fill="#000"/>
<rect x="155" y="530" width="1" height="4" fill="#000"/>
<rect x="251" y="530" width="1" height="4" fill="#000"/>
<rect x="347" y="530" width="1" height="4" fill="#000"/>
<rect x="443" y="530" width="1" height="4" fill="#000"/>
<rect x="551" y="530" width="1" height="4" fill="#000"/>
<rect x="647" y="530" width="1" height="4" fill="#000"/>
<rect x="743" y="530" width="1" height="4" fill="#000"/>
<rect x="839" y="530" width="1" height="4" fill="#000"/>
<rect x="935" y="530" width="1" height="4" fill="#000"/>
<rect x="1031" y="530" width="1" height="4" fill="#000"/>
<rect x="1171" y="3" width="6" height="1" fill="#c8c8c8"/>
<rect x="1171" y="3" width="1" height="13" fill="#b4b4b4"/>
<rect x="1171" y="15" width="6" height="1" fill="#a0a0a0"/>
<rect x="1173" y="7" width="4" height="1" fill="#000"/>
<rect x="1174" y="8" width="3" height="1" fill="#000"/>
<rect x="1175" y="9" width="2" height="1" fill="#000"/>
<rect x="1176" y="10" width="1" height="1" fill="#000"/>
<rect x="1171" y="234" width="6" height="1" fill="#c8c8c8"/>
<rect x="1171" y="234" width="1" height="13" fill="#b4b4b4"/>
<rect x="1171" y="246" width="6" height="1" fill="#a0a0a0"/>
<rect x="1173" y="238" width="4" height="1" fill="#000"/>
<rect x="1174" y="239" width="3" height="1" fill="#000"/>
<rect x="1175" y="240" width="2" height="1" fill="#000"/>
<rect x="1176" y="241" width="1" height="1" fill="#000"/>
<rect x="1171" y="333" width="6" height="1" fill="#c8c8c8"/>
<rect x="1171" y="333" width="1" height="13" fill="#b4b4b4"/>
<rect x="1171" y="345" width="6" height="1" fill="#a0a0a0"/>
<rect x="1173" y="337" width="4" height="1" fill="#000"/>
<rect x="1174" y="338" width="3" height="1" fill="#000"/>
<rect x="1175" y="339" width="2" height="1" fill="#000"/>
<rect x="1176" y="340" width="1" height="1" fill="#000"/>
<rect x="1171" y="432" width="6" height="1" fill="#c8c8c8"/>
<rect x="1171" y="432" width="1" height="13" fill="#b4b4b4"/>
<rect x="1171" y="444" width="6" height="1" fill="#a0a0a0"/>
<rect x="1173" y="436" width="4" height="1" fill="#000"/>
<rect x="1174" y="437" width="3" height="1" fill="#000"/>
<rect x="1175" y="438" width="2" height="1" fill="#000"/>
<rect x="1176" y="439" width="1" height="1" fill="#000"/>
<rect x="1126.5" y="314.5" width="39" height="13" fill="#fff" stroke="#000"/>
</g>
<g font-family="'Liberation Sans', sans-serif" font-size="12.5" fill="#000" style="filter:grayscale(1)">
<text font-family="'Liberation Sans', 'Noto Sans CJK JP', sans-serif" font-size="12" x="8.5 20.5" y="14.1">日経</text>
<text font-family="'Liberation Sans', 'Noto Sans CJK JP', sans-serif" font-size="12" x="128.5" y="14.1">分</text>
<text transform="scale(0.8 1)" x="41.52 49.02 56.52" y="14">225</text>
<text transform="scale(0.58 1)" x="88.51" y="14">m</text>
<text transform="scale(0.8 1)" x="73.61 79.02 88.61" y="14">ini</text>
<text transform="scale(0.8 1)" x="101.52 109.02 118.26 124.02 131.52 140.42" y="14">12/09(</text>
<text transform="scale(0.8 1)" x="154.02" y="14">5</text>
<text transform="scale(0.8 1)" x="178.26" y="14">,</text>
<text transform="scale(0.8 1)" x="191.52 199.02 206.52 214.02 223.26 229.02 236.52 245.76 251.52 259.02" y="14">2012/09/11</text>
<text transform="scale(0.8 1)" x="275.42" y="14">-</text>
<text transform="scale(0.8 1)" x="289.02 296.52 304.02 311.52 320.76 326.52 334.02 343.26 349.02 356.52" y="14">2012/09/13</text>
<text transform="scale(0.8 1)" x="372.92" y="14">)</text>
<text font-family="'Liberation Sans', 'Noto Sans CJK JP', sans-serif" font-size="12" x="322.5 334.5 346.5 358.5 370.5" y="14.1">一目均衡表</text>
<text transform="scale(0.8 1)" x="480.42" y="14">(</text>
<text transform="scale(0.8 1)" x="494.02 503.26" y="14">9,</text>
<text transform="scale(0.8 1)" x="516.52 524.02 533.26" y="14">26,</text>
<text transform="scale(0.8 1)" x="546.52 554.02" y="14">52</text>
<text transform="scale(0.8 1)" x="570.42" y="14">)</text>
<text font-family="'Liberation Sans', 'Noto Sans CJK JP', sans-serif" font-size="12" x="480.5 492.5 504.5 516.5" y="14.1">移動平均</text>
<text transform="scale(0.8 1)" x="662.92" y="14">(</text>
<text transform="scale(0.66 1)" x="813.94" y="14">C</text>
<text transform="scale(0.8 1)" x="686.11 691.52 699.38 706.52 715.76" y="14">lose,</text>
<text transform="scale(0.8 1)" x="729.02 736.52" y="14">75</text>
<text transform="scale(0.8 1)" x="752.92" y="14">)</text>
<text font-family="'Liberation Sans', 'Noto Sans CJK JP', sans-serif" font-size="12" x="626.5 638.5 650.5 662.5" y="14.1">移動平均</text>
<text transform="scale(0.8 1)" x="845.42" y="14">(</text>
<text transform="scale(0.66 1)" x="1033.6" y="14">C</text>
<text transform="scale(0.8 1)" x="868.61 874.02 881.88 889.02 898.26" y="14">lose,</text>
<text transform="scale(0.8 1)" x="911.52 919.02" y="14">40</text>
<text transform="scale(0.8 1)" x="935.42" y="14">)</text>
<text font-family="'Liberation Sans', 'Noto Sans CJK JP', sans-serif" font-size="12" x="772.5 784.5 796.5 808.5" y="14.1">移動平均</text>
<text transform="scale(0.8 1)" x="1027.92" y="14">(</text>
<text transform="scale(0.66 1)" x="1253.26" y="14">C</text>
<text transform="scale(0.8 1)" x="1051.11 1056.52 1064.38 1071.52 1080.76" y="14">lose,</text>
<text transform="scale(0.8 1)" x="1094.02 1101.52" y="14">75</text>
<text transform="scale(0.8 1)" x="1117.92" y="14">)</text>
<text font-family="'Liberation Sans', 'Noto Sans CJK JP', sans-serif" font-size="12" x="918.5 930.5 942.5 954.5" y="14.1">移動平均</text>
<text transform="scale(0.8 1)" x="1210.42" y="14">(</text>
<text transform="scale(0.66 1)" x="1472.92" y="14">C</text>
<text transform="scale(0.8 1)" x="1233.61 1239.02 1246.88 1254.02 1263.26" y="14">lose,</text>
<text transform="scale(0.8 1)" x="1276.52 1284.02 1291.52" y="14">150</text>
<text transform="scale(0.8 1)" x="1307.92" y="14">)</text>
<text font-family="'Liberation Sans', 'Noto Sans CJK JP', sans-serif" font-size="12" x="8.5 20.5 32.5 44.5" y="28.1">移動平均</text>
<text transform="scale(0.8 1)" x="72.92" y="28">(</text>
<text transform="scale(0.66 1)" x="103.81" y="28">C</text>
<text transform="scale(0.8 1)" x="96.11 101.52 109.38 116.52 125.76" y="28">lose,</text>
<text transform="scale(0.8 1)" x="139.02 146.52" y="28">10</text>
<text transform="scale(0.8 1)" x="162.92" y="28">)</text>
<text font-family="'Liberation Sans', 'Noto Sans CJK JP', sans-serif" font-size="12" x="154.5 166.5 178.5 190.5" y="28.1">移動平均</text>
<text transform="scale(0.8 1)" x="255.42" y="28">(</text>
<text transform="scale(0.66 1)" x="323.47" y="28">C</text>
<text transform="scale(0.8 1)" x="278.61 284.02 291.88 299.02 308.26" y="28">lose,</text>
<text transform="scale(0.8 1)" x="321.52" y="28">5</text>
<text transform="scale(0.8 1)" x="337.92" y="28">)</text>
<text font-family="'Liberation Sans', 'Noto Sans CJK JP', sans-serif" font-size="12" x="294.5 306.5 318.5 330.5" y="28.1">移動平均</text>
<text transform="scale(0.8 1)" x="430.42" y="28">(</text>
<text transform="scale(0.66 1)" x="534.1" y="28">C</text>
<text transform="scale(0.8 1)" x="453.61 459.02 466.88 474.02 483.26" y="28">lose,</text>
<text transform="scale(0.8 1)" x="496.52 504.02" y="28">20</text>
<text transform="scale(0.8 1)" x="520.42" y="28">)</text>
<text font-family="'Liberation Sans', 'Noto Sans CJK JP', sans-serif" font-size="12" x="440.5 452.5 464.5 476.5" y="28.1">移動平均</text>
<text transform="scale(0.8 1)" x="612.92" y="28">(</text>
<text transform="scale(0.66 1)" x="753.76" y="28">C</text>
<text transform="scale(0.8 1)" x="636.11 641.52 649.38 656.52 665.76" y="28">lose,</text>
<text transform="scale(0.8 1)" x="679.02 686.52" y="28">25</text>
<text transform="scale(0.8 1)" x="702.92" y="28">)</text>
<text font-family="'Liberation Sans', 'Noto Sans CJK JP', sans-serif" font-size="12" x="8.5 20.5 32.5" y="246.1">出来高</text>
<text transform="scale(0.58 1)" x="15.62" y="345">M</text>
<text transform="scale(0.72 1)" x="20.84" y="345">A</text>
<text transform="scale(0.66 1)" x="31.59 40.62" y="345">CD</text>
<text transform="scale(0.8 1)" x="42.92" y="345">(</text>
<text transform="scale(0.8 1)" x="56.52 64.02 73.26" y="345">12,</text>
<text transform="scale(0.8 1)" x="86.52 94.02 103.26" y="345">26,</text>
<text transform="scale(0.8 1)" x="116.52" y="345">9</text>
<text transform="scale(0.8 1)" x="132.92" y="345">)</text>
<text font-family="'Liberation Sans', 'Noto Sans CJK JP', sans-serif" font-size="12" x="8.5 20.5 32.5 44.5 56.5 68.5 80.5 92.5 104.5 116.5 128.5 140.5 152.5" y="443.1">スロー・ストキャスティクス</text>
<text transform="scale(0.8 1)" x="207.92" y="443">(</text>
<text transform="scale(0.8 1)" x="221.52 229.02 238.26" y="443">14,</text>
<text transform="scale(0.8 1)" x="251.52 260.76" y="443">3,</text>
<text transform="scale(0.8 1)" x="274.02 281.52 290.76" y="443">80,</text>
<text transform="scale(0.8 1)" x="304.02 311.52" y="443">20</text>
<text transform="scale(0.8 1)" x="327.92" y="443">)</text>
<text transform="scale(0.8 1)" x="1414.02 1423.26 1429.02 1436.52 1444.02" y="25">9,000</text>
<text transform="scale(0.8 1)" x="1414.02 1423.26 1429.02 1436.52 1444.02" y="67">8,960</text>
<text transform="scale(0.8 1)" x="1414.02 1423.26 1429.02 1436.52 1444.02" y="109">8,920</text>
<text transform="scale(0.8 1)" x="1414.02 1423.26 1429.02 1436.52 1444.02" y="146">8,885</text>
<text transform="scale(0.8 1)" x="1414.02 1423.26 1429.02 1436.52 1444.02" y="188">8,845</text>
<text transform="scale(0.8 1)" x="1414.02 1421.52 1429.02 1438.26 1444.02 1451.52" y="256">415.00</text>
<text transform="scale(0.8 1)" x="1414.02 1421.52 1429.02 1438.26 1444.02 1451.52" y="293">185.00</text>
<text transform="scale(0.8 1)" x="1414.02 1421.52 1430.76 1436.52 1444.02" y="355">26.00</text>
<text transform="scale(0.8 1)" x="1414.02 1423.26 1429.02 1436.52" y="393">8.00</text>
<text transform="scale(0.8 1)" x="1414.02 1421.52 1429.02 1438.26 1444.02 1451.52" y="454">100.00</text>
<text transform="scale(0.8 1)" x="1414.02 1421.52 1430.76 1436.52 1444.02" y="492">40.00</text>
<text transform="scale(0.8 1)" x="14.02 21.52 30.76 36.52 44.02" y="549">02:40</text>
<text transform="scale(0.8 1)" x="74.02 81.52 90.76 96.52 104.02" y="549">09:20</text>
<text transform="scale(0.8 1)" x="194.02 201.52 210.76 216.52 224.02" y="549">10:40</text>
<text transform="scale(0.8 1)" x="314.02 321.52 330.76 336.52 344.02" y="549">12:00</text>
<text transform="scale(0.8 1)" x="434.02 441.52 450.76 456.52 464.02" y="549">13:20</text>
<text transform="scale(0.8 1)" x="554.02 561.52 570.76 576.52 584.02" y="549">14:40</text>
<text transform="scale(0.8 1)" x="689.02 696.52 705.76 711.52 719.02" y="549">17:20</text>
<text transform="scale(0.8 1)" x="809.02 816.52 825.76 831.52 839.02" y="549">18:40</text>
<text transform="scale(0.8 1)" x="929.02 936.52 945.76 951.52 959.02" y="549">20:00</text>
<text transform="scale(0.8 1)" x="1049.02 1056.52 1065.76 1071.52 1079.02" y="549">21:20</text>
<text transform="scale(0.8 1)" x="1169.02 1176.52 1185.76 1191.52 1199.02" y="549">22:40</text>
<text transform="scale(0.8 1)" x="1289.02 1296.52 1305.76 1311.52 1319.02" y="549">09/13</text>
<text font-family="'Liberation Sans', 'Noto Sans CJK JP', sans-serif" font-size="13" x="1130" y="326.1">×</text>
<text transform="scale(0.8 1)" x="1432.77 1440.27 1447.77" y="326">100</text>
</g>
</svg></body></html>
